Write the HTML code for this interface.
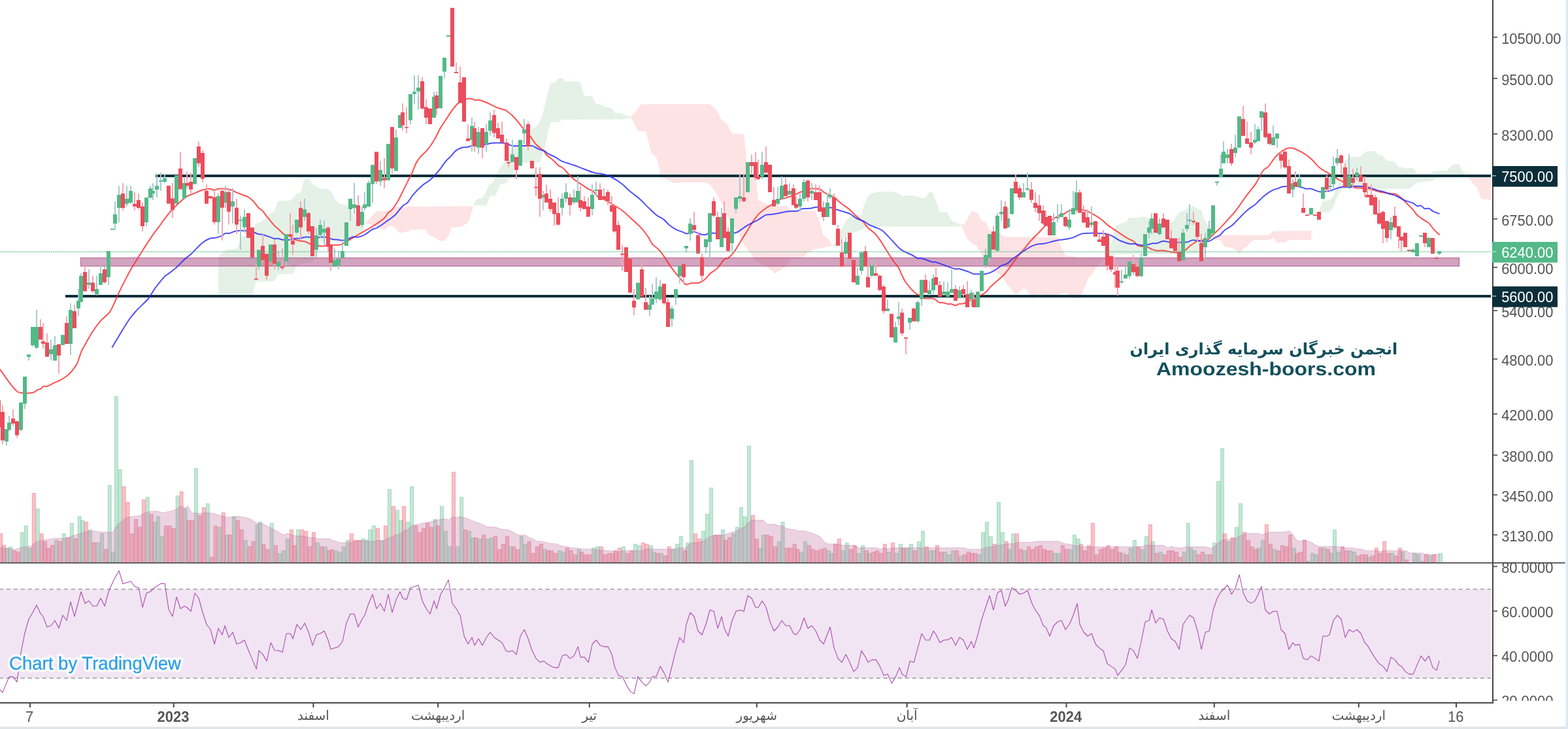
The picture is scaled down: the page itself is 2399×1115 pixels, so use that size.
<!DOCTYPE html>
<html><head><meta charset="utf-8"><title>Chart</title>
<style>
html,body{margin:0;padding:0;background:#fff;}
body{width:2399px;height:1115px;overflow:hidden;font-family:"Liberation Sans",sans-serif;}
svg{display:block;font-family:"Liberation Sans",sans-serif;will-change:transform;}
</style></head><body>
<svg width="2399" height="1115" viewBox="0 0 2399 1115" shape-rendering="geometricPrecision" text-rendering="geometricPrecision">
<rect width="2399" height="1115" fill="#fff"/>
<g id="main"><polygon points="334,450.3 334,392.5 339.3,387.3 348,381.2 362.9,380.3 369.9,361 376,361 379.5,359.3 390,345.3 391.8,341.4 398.8,340 405.8,333.9 411,329.5 419.8,322.5 425,307.6 444.3,306.8 454.8,295.4 460.1,294.5 465.3,273.5 472.3,273.5 478.4,281.4 488.1,287.5 493.3,288.9 502.1,289.3 507.3,294.5 512.6,305 519.6,312 530.1,313.4 534.5,317.3 542.3,332.1 547.6,343.5 558.1,340 556.3,348.8 554.6,354.9 545.8,358.4 535.3,365.4 532.7,368.9 526.6,368 505.6,368.9 489.8,369.8 486.3,382 482.8,392.5 478.4,400.4 470.6,402.2 460.1,403.1 453.1,408.3 449.6,417.1 446.1,418.8 425,419.7 419.8,430.2 391.8,431.1 386.5,450.3" fill="#e5f1e6"/><polygon points="724.3,314.6 727.9,306.3 733,303.2 738.2,303.2 743.3,293.9 749.5,281.6 753.6,279.5 759.8,265.1 768.1,252.7 776.3,244.4 782.5,227.9 788.7,218.6 792.8,215.5 805.2,214.5 811.4,197 819.7,194.9 825.9,186.7 832,168.1 838.2,141.3 842.4,126.8 848.5,126.4 853.7,120.6 859.9,119 865.1,124.8 887.7,125.2 893.9,147 906.3,147 911.5,158.8 918.7,159.8 926.9,164 936.2,165.6 940.4,172.6 950.7,173.2 958.9,177.4 965.1,178 966.1,179.4 951.7,182.5 859.9,182.9 854.7,186.7 842.4,187.1 838.2,203.2 834.1,223.8 828.9,240.3 825.9,248.5 799,249 795.9,253.7 788.7,256.8 780.5,271.2 774.3,280.5 766,281.6 757.8,299.1 749.5,300.1 744.4,314.6" fill="#e5f1e6"/><polygon points="1271,376 1275,374 1280,368 1286,352 1294,338 1301,331 1306,329 1318,329 1322,314 1328,300 1334,295.6 1346,293 1364,293 1374,295 1380,300 1388.1,299 1398.1,299 1410.1,303 1416.1,302.4 1422.1,293.6 1427.1,294.4 1432.1,308 1438.1,324.4 1449.1,325 1455.1,336 1460.1,340 1468.1,342 1468.1,346.4 1326,346.6 1318,352 1308,355 1300,356 1294,360 1290,366 1286,374 1280,376" fill="#e5f1e6"/><polygon points="1688.4,399.3 1690.8,391.4 1696.3,385 1698.7,378.7 1701.9,364.4 1705.8,347 1715.3,341.5 1721.7,340.7 1727.2,333.1 1740.7,332.8 1745.4,331.2 1753.4,332 1759.7,334.4 1793,340.7 1804.1,324.8 1812,321.7 1818.3,317.7 1825.4,315 1832.6,319.3 1838.1,321.7 1842.1,334.4 1846,341.5 1850,345.4 1853.2,356.5 1855.5,359.7 1848.4,369.2 1842.1,378.7 1832.6,388.2 1705.8,389 1704.3,391.4 1696.3,393" fill="#e5f1e6"/><polygon points="2006.5,366.4 2009.4,353.5 2013,347 2017.3,325.5 2023,308.3 2027.3,306.8 2034.5,306.8 2040.2,299.6 2044.5,286.7 2050.3,275.3 2053.1,260.9 2056,250.9 2058.9,245.1 2067.5,240.1 2081.8,239.1 2087.6,232.9 2093.3,231.1 2103.3,231.1 2109.8,237.2 2114.8,237.7 2122,245.8 2133.5,247.3 2140.6,256.6 2144.2,255.5 2149.3,257.3 2162.2,257.3 2169.3,265.9 2188,265.9 2193.7,261.6 2213.8,261.2 2221,253 2225.3,251.2 2232.5,251.6 2238.2,263.1 2243.9,263.5 2233.9,270.2 2196.6,271.7 2192.3,276.7 2173.6,278.1 2166.5,280.3 2156.4,288.6 2070.3,288.9 2053.1,288.9 2048.8,295.3 2044.5,304 2041.6,312.6 2037.3,321.2 2033,324.8 2023,325.2 2018.7,334.1 2014.4,344.1 2010.1,352.7" fill="#e5f1e6"/><polygon points="557.2,340.9 565.1,334.8 575.6,323.4 593.1,322.5 607.1,315.9 722.7,315.2 724.4,315.5 720.9,326 716.5,340 705.2,347 691.1,347.9 685.9,361 680.6,368 674.5,368.6 665.8,363.7 659.6,360.7 657,360.2 650.9,350.5 628.1,351.4 624.6,354 614.1,355.8 610.6,355.8 604.5,348.8 598.4,345.3 593.1,347 587.9,352.3 579.1,347.9 572.1,345.3 565.1,343.5" fill="#fde3e4"/><polygon points="964.8,178.5 972.2,171.1 981.1,159.2 1086.1,159.2 1095,166.6 1103.9,182.9 1111.3,188.8 1120.2,204.5 1137.9,205.1 1140.9,228.8 1142.4,248 1157.2,279.1 1160.1,305.7 1169,310.2 1180.8,316.1 1204.5,314.6 1210.4,322 1247.4,322.9 1254.8,341.2 1259.3,359 1269.6,367.9 1272.6,376.2 1245.9,381.2 1238.5,384.2 1231.1,391.6 1222.3,395.1 1210.4,396 1201.6,407.8 1195.6,412.3 1185.3,418.2 1180.8,413.7 1172,407.8 1163.1,403.4 1154.2,397.5 1148.3,387.1 1139.4,376.8 1130.5,359 1121.6,347.2 1112.8,329.4 1103.9,310.2 1095,293.9 1086.1,282.1 1080.2,279.1 1049.1,279.1 1029.9,279.7 1021,274.7 1010.7,271.7 1009.2,258.4 1004.7,242.1 995.9,231.7 991.4,214 988.5,200.7 976.6,200.7" fill="#fde3e4"/><polygon points="1468.1,342 1475.1,344 1480.1,334 1486.1,323 1495.1,325 1502.1,338 1508.1,339.6 1512.1,348 1518.1,356 1530.1,357 1537.1,362.4 1618.1,363 1622.1,374 1630.1,391 1642.2,391.6 1650.2,395 1682.2,395.6 1687.2,397 1678.2,408.1 1672.2,418.1 1666.2,424.1 1660.2,438.1 1654.2,451.1 1652.2,456.1 1640.2,456.1 1632.1,447.1 1620.1,450.1 1614.1,452.1 1600.1,451.7 1590.1,450.1 1584.1,456.1 1577.1,456.1 1572.1,444.1 1566.1,441.1 1560.1,446.1 1556.1,450.1 1552.1,448.1 1540.1,434.1 1534.1,424.1 1526.1,418.1 1518.1,414.1 1512.1,408.1 1506.1,398 1500.1,386 1494.1,376 1486.1,372 1480.1,366 1475.1,354 1472.1,347" fill="#fde3e4"/><polygon points="1855.5,359.7 1941.9,359.4 1948.2,353.4 2006.8,353 2006,366.8 1972,367.1 1966.4,370.8 1953.7,370.8 1948.2,363.7 1943.4,366.8 1918.1,367.3 1913.3,370 1908.6,376.3 1900.7,381.9 1895.9,388.2 1891.2,381.9 1884.8,379 1876.9,377.9 1871.4,375.5 1867.4,367.6 1861.1,366.8" fill="#fde3e4"/><polygon points="2243.9,263.5 2249.7,270.2 2281.2,270.2 2281.2,306.8 2276.9,304.7 2266.2,304.7 2259.7,286.7 2252.6,279.6 2246.8,271" fill="#fde3e4"/><path d="M8.2 860.6V838.4H13.2V860.6M13.4 860.6V836.5H18.4V860.6M31.2 860.6V814.4H36.2V860.6M37.4 860.6V804.4H42.4V860.6M43.4 860.6V838.4H48.4V860.6M55.3 860.6V778.3H60.3V860.6M83.5 860.6V826.3H88.5V860.6M95.4 860.6V816.3H100.4V860.6M107.3 860.6V800.4H112.3V860.6M119.2 860.6V790.1H124.2V860.6M123.9 860.6V796.1H128.9V860.6M135.3 860.6V810.3H140.3V860.6M147.2 860.6V830.1H152.2V860.6M153.4 860.6V816.3H158.4V860.6M165.3 860.6V742.6H170.3V860.6M170.5 860.6V844.3H175.5V860.6M175.3 860.6V606.4H180.3V860.6M181.2 860.6V718.1H186.2V860.6M223.3 860.6V760.4H228.3V860.6M234.5 860.6V798.5H239.5V860.6M239.4 860.6V790.1H244.4V860.6M245.4 860.6V820.3H250.4V860.6M269.2 860.6V758.5H274.2V860.6M281 860.6V778.3H286V860.6M297.4 860.6V716.5H302.4V860.6M315.3 860.6V770.4H320.3V860.6M333.3 860.6V806.3H338.3V860.6M344.5 860.6V818.2H349.5V860.6M355.4 860.6V790.1H360.4V860.6M373.3 860.6V826.3H378.3V860.6M391.1 860.6V802.5H396.1V860.6M395.8 860.6V798.6H400.8V860.6M413.2 860.6V800.3H418.2V860.6M425.5 860.6V846.7H430.5V860.6M431.3 860.6V842.3H436.3V860.6M437.4 860.6V824.3H442.4V860.6M453.5 860.6V810.3H458.5V860.6M483.6 860.6V830.4H488.6V860.6M495.4 860.6V836.2H500.4V860.6M511.5 860.6V842.3H516.5V860.6M517.5 860.6V844.4H522.5V860.6M523.4 860.6V836.2H528.4V860.6M529.6 860.6V826.5H534.6V860.6M553.5 860.6V824.3H558.5V860.6M558.4 860.6V826.5H563.4V860.6M563.7 860.6V810.3H568.7V860.6M569.4 860.6V804.3H574.4V860.6M581.5 860.6V826.5H586.5V860.6M593.4 860.6V748.4H598.4V860.6M605.6 860.6V780.2H610.6V860.6M611.2 860.6V796.3H616.2V860.6M621.4 860.6V798.6H626.4V860.6M627.5 860.6V744.3H632.5V860.6M663.4 860.6V794.5H668.4V860.6M673.5 860.6V774.4H678.5V860.6M679.4 860.6V812.5H684.4V860.6M685.6 860.6V836.2H690.6V860.6M697.6 860.6V836.2H702.6V860.6M703.6 860.6V760.4H708.6V860.6M715.5 860.6V812.5H720.5V860.6M721.1 860.6V822.5H726.1V860.6M731.6 860.6V824.3H736.6V860.6M743.5 860.6V824.3H748.5V860.6M749.4 860.6V822.5H754.4V860.6M778.4 860.6V836.2H783.4V860.6M795.4 860.6V820.4H800.4V860.6M801 860.6V832.3H806V860.6M831.3 860.6V840.2H836.3V860.6M853.5 860.6V842.3H858.5V860.6M859.6 860.6V844.4H864.6V860.6M883.2 860.6V840.2H888.2V860.6M905.6 860.6V838.3H910.6V860.6M911.5 860.6V836.2H916.5V860.6M951.4 860.6V836.2H956.4V860.6M969.4 860.6V832.3H974.4V860.6M975.5 860.6V834.4H980.5V860.6M993.4 860.6V834.4H998.4V860.6M998.1 860.6V844.4H1003.1V860.6M1009.5 860.6V846.3H1014.5V860.6M1027.5 860.6V840.2H1032.5V860.6M1033.6 860.6V832.3H1038.6V860.6M1039.4 860.6V820.4H1044.4V860.6M1049.7 860.6V830.4H1054.7V860.6M1055.5 860.6V704.5H1060.5V860.6M1073.5 860.6V812.5H1078.5V860.6M1079.4 860.6V786.3H1084.4V860.6M1085.6 860.6V746.4H1090.6V860.6M1103.6 860.6V810.3H1108.6V860.6M1119.3 860.6V816.4H1124.3V860.6M1125.4 860.6V806.4H1130.4V860.6M1131.4 860.6V776.3H1136.4V860.6M1137.5 860.6V790.3H1142.5V860.6M1143.5 860.6V682.2H1148.5V860.6M1160.4 860.6V838.3H1165.4V860.6M1165.5 860.6V818.3H1170.5V860.6M1189.3 860.6V828.3H1194.3V860.6M1195.1 860.6V798.6H1200.1V860.6M1223.4 860.6V844.4H1228.4V860.6M1229.3 860.6V828.3H1234.3V860.6M1265.4 860.6V842.3H1270.4V860.6M1269.7 860.6V846.3H1274.7V860.6M1287.6 860.6V842.3H1292.6V860.6M1293.3 860.6V830.4H1298.3V860.6M1311.5 860.6V846.3H1316.5V860.6M1317.5 860.6V834.4H1322.5V860.6M1327.8 860.6V846.3H1332.8V860.6M1357.5 860.6V844.4H1362.5V860.6M1369.4 860.6V846.3H1374.4V860.6M1375.5 860.6V832.3H1380.5V860.6M1385.5 860.6V838.3H1390.5V860.6M1391.5 860.6V832.3H1396.5V860.6M1403.4 860.6V828.3H1408.4V860.6M1409.5 860.6V812.5H1414.5V860.6M1421.4 860.6V842.3H1426.4V860.6M1426.6 860.6V842.3H1431.6V860.6M1443.4 860.6V844.4H1448.4V860.6M1449.5 860.6V848.4H1454.5V860.6M1455.5 860.6V842.3H1460.5V860.6M1467.5 860.6V850.1H1472.5V860.6M1495.4 860.6V848.4H1500.4V860.6M1501.5 860.6V814.3H1506.5V860.6M1507.4 860.6V798.6H1512.4V860.6M1513.4 860.6V820.4H1518.4V860.6M1525.4 860.6V768.3H1530.4V860.6M1531.4 860.6V814.3H1536.4V860.6M1541.7 860.6V840.2H1546.7V860.6M1547.5 860.6V816.4H1552.5V860.6M1565.5 860.6V842.3H1570.5V860.6M1611.5 860.6V846.3H1616.5V860.6M1617.3 860.6V846.3H1622.3V860.6M1635.5 860.6V840.2H1640.5V860.6M1641.4 860.6V818.3H1646.4V860.6M1647.3 860.6V824.3H1652.3V860.6M1715.6 860.6V846.3H1720.6V860.6M1727.3 860.6V838.3H1732.3V860.6M1733.4 860.6V826.5H1738.4V860.6M1745.3 860.6V840.2H1750.3V860.6M1751.4 860.6V820.4H1756.4V860.6M1761.4 860.6V828.3H1766.4V860.6M1773.3 860.6V844.4H1778.3V860.6M1809.3 860.6V844.4H1814.3V860.6M1815.4 860.6V800.3H1820.4V860.6M1819.6 860.6V838.3H1824.6V860.6M1825.4 860.6V842.3H1830.4V860.6M1843.4 860.6V848.4H1848.4V860.6M1855.5 860.6V830.4H1860.5V860.6M1861.4 860.6V736.5H1866.4V860.6M1867.4 860.6V686.3H1872.4V860.6M1877.3 860.6V828.3H1882.3V860.6M1889.4 860.6V806.4H1894.4V860.6M1895.4 860.6V770.2H1900.4V860.6M1923.7 860.6V838.3H1928.7V860.6M1929.5 860.6V826.2H1934.5V860.6M1947.5 860.6V840.2H1952.5V860.6M1977.4 860.6V838.3H1982.4V860.6M1999.4 860.6V858.4H2004.4V860.6M2005.5 860.6V846.2H2010.5V860.6M2011.4 860.6V848.3H2016.4V860.6M2023.4 860.6V838.3H2028.4V860.6M2034 860.6V846.2H2039V860.6M2039.5 860.6V810.4H2044.5V860.6M2045.5 860.6V844.3H2050.5V860.6M2063.5 860.6V842.4H2068.5V860.6M2069.5 860.6V844.3H2074.5V860.6M2091.7 860.6V852.2H2096.7V860.6M2127.5 860.6V846.2H2132.5V860.6M2143.8 860.6V844.3H2148.8V860.6M2161.6 860.6V846.2H2166.6V860.6M2167.6 860.6V848.3H2172.6V860.6M2173.6 860.6V858.4H2178.6V860.6M2185.5 860.6V850.2H2190.5V860.6M2201.6 860.6V846.2H2206.6V860.6" fill="rgba(83,185,135,0.34)" stroke="rgba(83,185,135,0.42)" stroke-width="1"/><path d="M-1.3 860.6V816.3H3.7V860.6M3.4 860.6V834.1H8.4V860.6M19.4 860.6V842.4H24.4V860.6M25.3 860.6V844.3H30.3V860.6M49.3 860.6V754.5H54.3V860.6M61.2 860.6V816.3H66.2V860.6M66.4 860.6V828.2H71.4V860.6M71.7 860.6V838.4H76.7V860.6M77.6 860.6V834.1H82.6V860.6M89.5 860.6V828.2H94.5V860.6M101.4 860.6V822.2H106.4V860.6M113.2 860.6V824.1H118.2V860.6M129.4 860.6V798.5H134.4V860.6M141.3 860.6V830.1H146.3V860.6M159.4 860.6V840H164.4V860.6M187.2 860.6V744.3H192.2V860.6M193.1 860.6V768.3H198.1V860.6M199.5 860.6V816.3H204.5V860.6M205.5 860.6V794.4H210.5V860.6M211.4 860.6V806.3H216.4V860.6M217.3 860.6V764.5H222.3V860.6M229.2 860.6V786.6H234.2V860.6M251.3 860.6V804.4H256.3V860.6M257.3 860.6V804.4H262.3V860.6M263.2 860.6V808.4H268.2V860.6M275.1 860.6V752.1H280.1V860.6M285.8 860.6V796.1H290.8V860.6M291.5 860.6V796.1H296.5V860.6M303.4 860.6V788.5H308.4V860.6M309.3 860.6V776.4H314.3V860.6M321.2 860.6V852.4H326.2V860.6M327.1 860.6V804.4H332.1V860.6M339.3 860.6V784.2H344.3V860.6M349.5 860.6V818.2H354.5V860.6M361.4 860.6V796.1H366.4V860.6M367.3 860.6V810.3H372.3V860.6M379.2 860.6V836H384.2V860.6M385.1 860.6V828.2H390.1V860.6M401 860.6V832.7H406V860.6M407.1 860.6V840.5H412.1V860.6M419.4 860.6V834.4H424.4V860.6M443.5 860.6V810.3H448.5V860.6M448.2 860.6V834.4H453.2V860.6M459.6 860.6V810.3H464.6V860.6M465.7 860.6V812.5H470.7V860.6M471.3 860.6V836.2H476.3V860.6M477.4 860.6V814.3H482.4V860.6M489.7 860.6V836.2H494.7V860.6M501 860.6V842.3H506V860.6M505.6 860.6V840.5H510.6V860.6M535.3 860.6V816.4H540.3V860.6M541.4 860.6V826.5H546.4V860.6M547.6 860.6V826.5H552.6V860.6M575.5 860.6V808.5H580.5V860.6M587.4 860.6V804.3H592.4V860.6M599.5 860.6V774.4H604.5V860.6M615.4 860.6V774.4H620.4V860.6M633.6 860.6V804.3H638.6V860.6M639.7 860.6V814.3H644.7V860.6M645.5 860.6V808.2H650.5V860.6M651.5 860.6V800.3H656.5V860.6M657.6 860.6V806.4H662.6V860.6M667.7 860.6V804.3H672.7V860.6M691.5 860.6V722.1H696.5V860.6M709.5 860.6V810.3H714.5V860.6M725.8 860.6V822.5H730.8V860.6M737.5 860.6V818.3H742.5V860.6M755.5 860.6V820.4H760.5V860.6M761.6 860.6V840.5H766.6V860.6M767.4 860.6V832.3H772.4V860.6M773.5 860.6V820.4H778.5V860.6M783.5 860.6V836.2H788.5V860.6M789.6 860.6V840.5H794.6V860.6M807.1 860.6V828.3H812.1V860.6M813.2 860.6V846.3H818.2V860.6M819.4 860.6V836.2H824.4V860.6M825.5 860.6V832.3H830.5V860.6M836 860.6V842.3H841V860.6M841.2 860.6V842.3H846.2V860.6M847.3 860.6V846.3H852.3V860.6M865.4 860.6V838.3H870.4V860.6M871.3 860.6V842.3H876.3V860.6M877.4 860.6V848.4H882.4V860.6M887.6 860.6V844.4H892.6V860.6M893.3 860.6V848.4H898.3V860.6M899.3 860.6V848.4H904.3V860.6M917.5 860.6V836.2H922.5V860.6M923.4 860.6V848.4H928.4V860.6M929.6 860.6V846.3H934.6V860.6M935.3 860.6V846.3H940.3V860.6M939.5 860.6V842.3H944.5V860.6M945.3 860.6V838.3H950.3V860.6M957.5 860.6V846.3H962.5V860.6M963.7 860.6V842.3H968.7V860.6M981.5 860.6V830.4H986.5V860.6M987.4 860.6V832.3H992.4V860.6M1003.5 860.6V846.3H1008.5V860.6M1015.4 860.6V850.1H1020.4V860.6M1021.4 860.6V836.2H1026.4V860.6M1045.5 860.6V842.3H1050.5V860.6M1061.6 860.6V816.4H1066.6V860.6M1067.7 860.6V824.3H1072.7V860.6M1091.5 860.6V818.3H1096.5V860.6M1097.6 860.6V818.3H1102.6V860.6M1107.6 860.6V826.5H1112.6V860.6M1113.4 860.6V822.2H1118.4V860.6M1149.4 860.6V788.4H1154.4V860.6M1155.5 860.6V824.3H1160.5V860.6M1171.4 860.6V818.3H1176.4V860.6M1177.4 860.6V820.4H1182.4V860.6M1183.5 860.6V836.2H1188.5V860.6M1201.3 860.6V838.3H1206.3V860.6M1207.1 860.6V838.3H1212.1V860.6M1213.2 860.6V832.3H1218.2V860.6M1218 860.6V840.2H1223V860.6M1235.5 860.6V834.4H1240.5V860.6M1241.2 860.6V840.2H1246.2V860.6M1247.3 860.6V842.3H1252.3V860.6M1253.5 860.6V840.2H1258.5V860.6M1259.6 860.6V838.3H1264.6V860.6M1275.3 860.6V832.3H1280.3V860.6M1281.5 860.6V824.3H1286.5V860.6M1299.3 860.6V840.2H1304.3V860.6M1305.4 860.6V834.4H1310.4V860.6M1323.4 860.6V842.3H1328.4V860.6M1333.4 860.6V844.4H1338.4V860.6M1339.2 860.6V842.3H1344.2V860.6M1345.3 860.6V846.3H1350.3V860.6M1351.4 860.6V832.3H1356.4V860.6M1363.5 860.6V830.4H1368.5V860.6M1379.7 860.6V838.3H1384.7V860.6M1397.4 860.6V842.3H1402.4V860.6M1415.4 860.6V836.2H1420.4V860.6M1431.5 860.6V834.4H1436.5V860.6M1437.5 860.6V844.4H1442.5V860.6M1461.6 860.6V842.3H1466.6V860.6M1473.5 860.6V848.4H1478.5V860.6M1479.4 860.6V844.4H1484.4V860.6M1484.3 860.6V846.3H1489.3V860.6M1489.6 860.6V846.3H1494.6V860.6M1519.3 860.6V832.3H1524.3V860.6M1537.3 860.6V828.3H1542.3V860.6M1553.4 860.6V816.4H1558.4V860.6M1559.5 860.6V840.2H1564.5V860.6M1571.4 860.6V836.2H1576.4V860.6M1577.4 860.6V840.2H1582.4V860.6M1583.5 860.6V836.2H1588.5V860.6M1589.5 860.6V834.4H1594.5V860.6M1595.4 860.6V840.2H1600.4V860.6M1599.2 860.6V842.3H1604.2V860.6M1605.4 860.6V842.3H1610.4V860.6M1623.4 860.6V834.4H1628.4V860.6M1629.3 860.6V840.2H1634.3V860.6M1651.4 860.6V832.3H1656.4V860.6M1657.3 860.6V842.3H1662.3V860.6M1663.3 860.6V834.4H1668.3V860.6M1669.4 860.6V800.3H1674.4V860.6M1675.3 860.6V848.4H1680.3V860.6M1681.5 860.6V840.2H1686.5V860.6M1687.4 860.6V838.3H1692.4V860.6M1693.3 860.6V834.4H1698.3V860.6M1699.3 860.6V840.2H1704.3V860.6M1705.4 860.6V836.2H1710.4V860.6M1710.3 860.6V844.4H1715.3V860.6M1721.3 860.6V848.4H1726.3V860.6M1739.3 860.6V836.2H1744.3V860.6M1757.4 860.6V802.4H1762.4V860.6M1767.2 860.6V846.3H1772.2V860.6M1779.4 860.6V848.4H1784.4V860.6M1785.5 860.6V842.3H1790.5V860.6M1791.5 860.6V842.3H1796.5V860.6M1797.4 860.6V844.4H1802.4V860.6M1803.4 860.6V852.2H1808.4V860.6M1831.3 860.6V848.4H1836.3V860.6M1837.5 860.6V844.4H1842.5V860.6M1849.4 860.6V848.4H1854.4V860.6M1871.4 860.6V816.4H1876.4V860.6M1883.5 860.6V822.2H1888.5V860.6M1901.5 860.6V814.3H1906.5V860.6M1907.4 860.6V826.2H1912.4V860.6M1913.4 860.6V836.2H1918.4V860.6M1919.3 860.6V840.2H1924.3V860.6M1935.4 860.6V802.4H1940.4V860.6M1941.4 860.6V832.3H1946.4V860.6M1953.4 860.6V842.3H1958.4V860.6M1959.5 860.6V834.4H1964.5V860.6M1965.5 860.6V836.2H1970.5V860.6M1971.4 860.6V818.3H1976.4V860.6M1981.8 860.6V846.3H1986.8V860.6M1987.5 860.6V844.4H1992.5V860.6M1993.5 860.6V826.1H1998.5V860.6M2017.4 860.6V838.3H2022.4V860.6M2029.4 860.6V840.2H2034.4V860.6M2051.5 860.6V836.1H2056.5V860.6M2057.6 860.6V842.4H2062.6V860.6M2075.4 860.6V850.2H2080.4V860.6M2081.4 860.6V848.3H2086.4V860.6M2087.5 860.6V848.3H2092.5V860.6M2097.5 860.6V850.2H2102.5V860.6M2103.5 860.6V838.3H2108.5V860.6M2109.6 860.6V846.2H2114.6V860.6M2115.6 860.6V828.2H2120.6V860.6M2121.6 860.6V846.2H2126.6V860.6M2133.6 860.6V850.2H2138.6V860.6M2139.5 860.6V838.3H2144.5V860.6M2149.5 860.6V856.2H2154.5V860.6M2179.6 860.6V848.3H2184.6V860.6M2191.6 860.6V848.3H2196.6V860.6" fill="rgba(235,77,92,0.34)" stroke="rgba(235,77,92,0.42)" stroke-width="1"/><path d="M0 837.7 L9.5 838.9 L23.8 840 L35.7 836.5 L47.5 835.3 L57 828.2 L68.9 825.8 L83.2 823.4 L99.8 823.4 L114.1 818.7 L128.3 813.9 L142.6 812 L154.5 813.9 L166.4 813.9 L172.3 815.1 L175.9 808 L183 799.6 L194.9 791.3 L206.8 789.4 L213.9 788.9 L222.2 784.2 L230.5 782.3 L240 781.8 L249.6 784.2 L261.4 781.8 L268.6 779.4 L276.9 774.2 L282.8 777.1 L287.6 774 L293.5 784.2 L304.2 785.4 L316.1 784.2 L328 785.4 L337.5 788.9 L349.4 791.3 L363.6 790.1 L375.5 791.3 L382.7 793.7 L389.8 798.5 L398.1 800.4 L400 800.3 L408.7 804.7 L415.7 808.2 L422.7 811.7 L433.2 818.3 L439.4 816 L445.5 817.8 L452.5 819.5 L464.7 820.1 L473.5 822.2 L480.5 822.2 L485.7 823.9 L503.2 823.9 L511.9 827.4 L520.7 830 L529.4 830 L538.2 829.2 L545.2 826.9 L553.9 826.9 L569.7 828.3 L576.7 826.2 L585.4 827.4 L595.9 822.2 L604.6 818.7 L613.4 816 L618.6 811.7 L623.9 809.9 L630.9 803.3 L641.4 801.5 L648.4 799.8 L657.1 798.6 L667.6 795.9 L676.3 793.8 L681.6 793.8 L686.8 795.6 L692.1 790.7 L697.3 791.6 L704.3 790.3 L713.1 792.4 L723.6 796.8 L737.6 802.1 L745.4 806.1 L756.8 806.1 L769 809.9 L776 809.9 L784.8 813.4 L791.8 818.3 L798.8 818.3 L803.5 818.3 L808.7 821.8 L814.9 823.9 L821 827.8 L828 827.9 L835 829.5 L842 831.3 L850.7 831.8 L860.3 835.3 L868.2 836.2 L873.5 837.9 L884 838.3 L890.9 839.7 L904.9 839.7 L920.7 841.8 L936.4 842.3 L945.2 844.4 L953.9 842.3 L981.9 842.3 L989.8 839.7 L1027.4 840 L1035.2 839.3 L1042.2 837.9 L1049.2 838.3 L1052.7 834.4 L1057.1 830.6 L1072.8 829.2 L1081.6 823.9 L1086.8 820.4 L1093.8 818.7 L1107.8 818.3 L1114.8 815.5 L1125.3 812.5 L1132.3 809 L1139.3 806.1 L1145.4 798.6 L1151.6 795.9 L1167.3 795.6 L1173.4 801.5 L1184.8 802.1 L1191.8 803.8 L1198.8 804.7 L1200 806.4 L1208.7 809.6 L1215.7 809.9 L1221 812 L1231.5 812 L1242 815.2 L1250.7 818.7 L1256 822.2 L1261.2 829.5 L1266.5 831.8 L1282.2 832.3 L1289.2 834.1 L1306.7 834.1 L1313.7 837.9 L1339.9 837.9 L1346.9 839.7 L1352.2 837.9 L1358.3 839.7 L1364.4 837.9 L1474.6 837.9 L1481.6 840 L1500.8 840 L1509.6 837 L1520.1 835.8 L1527.1 834.1 L1535.8 833 L1541.1 831.8 L1551.6 831.3 L1556.8 829.5 L1579.5 829.5 L1584.8 827.9 L1598.8 827.9 L1600 827.9 L1619.2 827.9 L1629.7 831.8 L1636.7 832.3 L1642 834.1 L1657.7 836.2 L1745.2 836.2 L1752.2 834.1 L1780.1 834.1 L1787.1 837.9 L1792.4 835.8 L1799.4 837.9 L1809.9 837.9 L1815.1 836.2 L1844.9 836.2 L1851.9 838.3 L1856.2 837.9 L1862.4 831.8 L1869.3 826.2 L1888.6 823.9 L1897.3 819.5 L1907.8 816 L1925.3 815.7 L1931.4 818.3 L1937.6 815.5 L1943.7 813.9 L1965.5 813.9 L1972.5 812.2 L1977.8 816.9 L1983 825.7 L1989.2 827.9 L1995 825.8 L2000 827.3 L2006.3 829.5 L2012.6 833.6 L2018.9 835.9 L2046.5 835.9 L2051.5 836.8 L2057.8 838 L2070.4 838 L2076.7 839.5 L2082.9 839.9 L2089.2 842 L2106.8 842.4 L2110.6 844.1 L2115.6 842.4 L2150.7 842 L2157 845.8 L2174.6 845.8 L2180.9 847.8 L2202.2 848.1 L2202.2 860.6 L0 860.6Z" fill="rgba(190,110,160,0.30)"/><path d="M0 837.7 L9.5 838.9 L23.8 840 L35.7 836.5 L47.5 835.3 L57 828.2 L68.9 825.8 L83.2 823.4 L99.8 823.4 L114.1 818.7 L128.3 813.9 L142.6 812 L154.5 813.9 L166.4 813.9 L172.3 815.1 L175.9 808 L183 799.6 L194.9 791.3 L206.8 789.4 L213.9 788.9 L222.2 784.2 L230.5 782.3 L240 781.8 L249.6 784.2 L261.4 781.8 L268.6 779.4 L276.9 774.2 L282.8 777.1 L287.6 774 L293.5 784.2 L304.2 785.4 L316.1 784.2 L328 785.4 L337.5 788.9 L349.4 791.3 L363.6 790.1 L375.5 791.3 L382.7 793.7 L389.8 798.5 L398.1 800.4 L400 800.3 L408.7 804.7 L415.7 808.2 L422.7 811.7 L433.2 818.3 L439.4 816 L445.5 817.8 L452.5 819.5 L464.7 820.1 L473.5 822.2 L480.5 822.2 L485.7 823.9 L503.2 823.9 L511.9 827.4 L520.7 830 L529.4 830 L538.2 829.2 L545.2 826.9 L553.9 826.9 L569.7 828.3 L576.7 826.2 L585.4 827.4 L595.9 822.2 L604.6 818.7 L613.4 816 L618.6 811.7 L623.9 809.9 L630.9 803.3 L641.4 801.5 L648.4 799.8 L657.1 798.6 L667.6 795.9 L676.3 793.8 L681.6 793.8 L686.8 795.6 L692.1 790.7 L697.3 791.6 L704.3 790.3 L713.1 792.4 L723.6 796.8 L737.6 802.1 L745.4 806.1 L756.8 806.1 L769 809.9 L776 809.9 L784.8 813.4 L791.8 818.3 L798.8 818.3 L803.5 818.3 L808.7 821.8 L814.9 823.9 L821 827.8 L828 827.9 L835 829.5 L842 831.3 L850.7 831.8 L860.3 835.3 L868.2 836.2 L873.5 837.9 L884 838.3 L890.9 839.7 L904.9 839.7 L920.7 841.8 L936.4 842.3 L945.2 844.4 L953.9 842.3 L981.9 842.3 L989.8 839.7 L1027.4 840 L1035.2 839.3 L1042.2 837.9 L1049.2 838.3 L1052.7 834.4 L1057.1 830.6 L1072.8 829.2 L1081.6 823.9 L1086.8 820.4 L1093.8 818.7 L1107.8 818.3 L1114.8 815.5 L1125.3 812.5 L1132.3 809 L1139.3 806.1 L1145.4 798.6 L1151.6 795.9 L1167.3 795.6 L1173.4 801.5 L1184.8 802.1 L1191.8 803.8 L1198.8 804.7 L1200 806.4 L1208.7 809.6 L1215.7 809.9 L1221 812 L1231.5 812 L1242 815.2 L1250.7 818.7 L1256 822.2 L1261.2 829.5 L1266.5 831.8 L1282.2 832.3 L1289.2 834.1 L1306.7 834.1 L1313.7 837.9 L1339.9 837.9 L1346.9 839.7 L1352.2 837.9 L1358.3 839.7 L1364.4 837.9 L1474.6 837.9 L1481.6 840 L1500.8 840 L1509.6 837 L1520.1 835.8 L1527.1 834.1 L1535.8 833 L1541.1 831.8 L1551.6 831.3 L1556.8 829.5 L1579.5 829.5 L1584.8 827.9 L1598.8 827.9 L1600 827.9 L1619.2 827.9 L1629.7 831.8 L1636.7 832.3 L1642 834.1 L1657.7 836.2 L1745.2 836.2 L1752.2 834.1 L1780.1 834.1 L1787.1 837.9 L1792.4 835.8 L1799.4 837.9 L1809.9 837.9 L1815.1 836.2 L1844.9 836.2 L1851.9 838.3 L1856.2 837.9 L1862.4 831.8 L1869.3 826.2 L1888.6 823.9 L1897.3 819.5 L1907.8 816 L1925.3 815.7 L1931.4 818.3 L1937.6 815.5 L1943.7 813.9 L1965.5 813.9 L1972.5 812.2 L1977.8 816.9 L1983 825.7 L1989.2 827.9 L1995 825.8 L2000 827.3 L2006.3 829.5 L2012.6 833.6 L2018.9 835.9 L2046.5 835.9 L2051.5 836.8 L2057.8 838 L2070.4 838 L2076.7 839.5 L2082.9 839.9 L2089.2 842 L2106.8 842.4 L2110.6 844.1 L2115.6 842.4 L2150.7 842 L2157 845.8 L2174.6 845.8 L2180.9 847.8 L2202.2 848.1" fill="none" stroke="rgba(190,110,160,0.32)" stroke-width="1.1"/><rect x="123.5" y="394.5" width="2109" height="12.5" fill="rgba(170,80,135,0.52)" stroke="rgba(175,85,140,0.75)" stroke-width="1.4"/><rect x="238" y="267" width="2043" height="4" fill="#0b2f3a"/><rect x="100" y="451" width="2181" height="4" fill="#0b2f3a"/><path d="M0 564.8C1.9 567.5 8.1 576.6 11.8 581.6C15.6 586.7 20.5 593.4 23.7 596.4C26.8 599.5 27.5 600.1 31.6 600.8C35.7 601.5 45.2 601.5 49.3 600.8C53.4 600.1 55 597.4 57.2 596.4C59.4 595.4 61.7 595.3 63.1 594.4C64.6 593.6 64.5 591.5 66.1 590.9C67.7 590.3 70 591.5 73 590.5C76 589.5 82 585.9 84.8 584.6C87.7 583.3 87.9 583.8 90.8 582.2C93.6 580.6 99.4 577.2 102.6 574.7C105.8 572.2 108 570 110.5 566.8C113 563.7 116.2 559.6 118.4 555C120.6 550.4 122.1 543.3 124.3 538.2C126.5 533.2 129.4 528.5 132.2 523.4C135 518.4 138.6 511.8 142.1 506.6C145.5 501.4 149.9 495.4 153.9 490.9C157.9 486.3 163.7 482.6 167.1 478.2C170.5 473.8 172.5 468.6 175 463.4C177.5 458.2 180 451.6 182.9 445.6C185.7 439.6 189.6 431.9 192.7 425.9C195.9 419.9 199.4 413.5 202.6 408.1C205.8 402.8 209.3 397.4 212.5 392.3C215.6 387.3 218.9 381.9 222.3 376.6C225.8 371.2 230.4 364.2 234.2 358.8C238 353.4 243.5 346.5 246 343C248.5 339.5 247.5 340.4 250 337.1C252.5 333.8 258.1 326.6 261.8 322.3C265.6 318.1 269.9 314 273.7 310.5C277.5 307 281.7 303 285.5 300.6C289.3 298.3 293.6 297.3 297.4 295.7C301.1 294.1 305.4 291.9 309.2 290.8C313 289.7 318.2 288.8 321 288.8C323.9 288.8 324.7 290.8 327 290.8C329.2 290.8 332 289.1 334.8 288.8C337.7 288.5 341.6 288.5 344.7 288.8C347.9 289.1 351.7 289.8 354.6 290.8C357.4 291.7 359.9 293.6 362.5 294.7C365 295.8 367.5 296.6 370.4 297.7C373.2 298.8 377.4 299.9 380.2 301.6C383.1 303.4 385.6 305.9 388.1 308.5C390.6 311.1 393.6 315.8 395.8 318C397.9 320.2 399.5 320.1 401.5 322.3C403.6 324.5 405.9 328.2 408.7 331.7C411.5 335.1 415.8 340.6 418.7 343.9C421.7 347.1 424.7 349.3 427.4 351.7C430 354.2 432.7 357.5 435.2 358.9C437.8 360.3 441 359.3 443.1 360.4C445.3 361.4 446.6 364.1 448.9 365.4C451.2 366.6 454.7 367.6 457.5 368.2C460.2 368.9 463.3 368.4 466.1 369.3C468.9 370.1 472.4 372.4 474.7 373.3C477 374.1 478.4 374.2 480.4 374.7C482.5 375.2 485.3 375.9 487.6 376.1C489.9 376.4 492.5 376.7 494.8 376.4C497.1 376.2 499.7 375 502 374.7C504.3 374.4 506.6 374.7 509.1 374.7C511.7 374.7 515.5 374.9 517.8 374.7C520 374.5 521.2 374.3 523.5 373.3C525.8 372.2 528.8 370.2 532.1 368.2C535.4 366.3 539.9 363.8 544 361.4C548.1 359 553.5 355.8 558 353.2C562.5 350.6 567.3 348 572 345C576.6 342.1 583.6 337.7 587.1 334.6C590.7 331.4 592.1 327.5 594.1 325.2C596.2 323 597.5 323.5 600 320.6C602.4 317.6 606.7 311 609.3 306.6C611.9 302.1 614 297.1 616.3 292.6C618.5 288.1 621 283.1 623.3 278.6C625.5 274.1 628 269.4 630.3 264.6C632.5 259.7 635 252.4 637.3 248.3C639.5 244.2 641.7 241.9 644.3 238.9C646.9 236 650.4 233.5 653.6 229.6C656.8 225.7 660.7 220 664.1 214.4C667.5 208.9 671.6 199.8 674.6 194.6C677.6 189.4 680.1 186.2 683 181.9C685.8 177.6 689.3 171.8 692.3 167.9C695.3 164 698.3 160 701.6 157.4C705 154.8 710.3 152.6 713.3 151.6C716.3 150.5 718 150.6 720.3 150.9C722.5 151.1 725 152.8 727.3 153.2C729.5 153.6 730.9 152.4 734.3 153.2C737.6 154.1 744.2 156.8 748.3 158.6C752.4 160.4 756.2 162.9 759.9 164.4C763.7 165.9 769.4 167.2 771.6 167.9C773.8 168.6 771.9 167.3 773.9 168.7C775.8 170.1 780.7 173.8 783.7 176.6C786.7 179.5 789.9 183.3 792.6 186.5C795.3 189.7 797.7 193.1 800.5 196.4C803.4 199.7 807.2 203.3 810.4 207.2C813.5 211.2 816.8 217.2 820.2 221C823.7 224.8 829.6 228.4 832.1 230.9C834.6 233.4 833.8 234.6 836 236.8C838.2 239 843.1 242.2 845.9 244.7C848.7 247.2 851.3 250.6 853.8 252.6C856.3 254.7 858.8 255.1 861.7 257.5C864.5 260 868.7 265.2 871.6 268C874.4 270.8 876.3 272.9 879.4 275.3C882.6 277.7 887.8 280.9 891.3 283.2C894.8 285.5 898.6 288.3 901.1 289.7C903.7 291.1 904.9 290.3 907.1 292.1C909.3 293.9 912.4 299 915 300.9C917.5 302.9 919.2 302.5 922.9 304.4C926.6 306.4 933.2 310.1 938 313C942.8 316 948.6 319.3 953 322.7C957.5 326.2 961.5 330.4 966 334.6C970.4 338.7 976.9 344.1 981 348.6C985.2 353 989 358.6 991.8 362.6C994.5 366.5 995.5 370 998.2 373.3C1001 376.6 1005.9 379.6 1009 383C1012.1 386.4 1014.9 390.9 1017.6 394.8C1020.4 398.8 1023.1 403.4 1026.2 407.8C1029.3 412.1 1033.9 418 1037 421.7C1040.1 425.5 1043.5 429.3 1045.6 431.4C1047.7 433.6 1047.8 435.1 1049.9 435.3C1052 435.5 1055.5 433.1 1058.5 432.7C1061.5 432.3 1065.6 433.6 1068.8 432.7C1072 431.8 1075.8 429.5 1078.7 427.2C1081.5 424.9 1083.6 421 1086.6 418.3C1089.6 415.6 1094 413.9 1097.4 410.4C1100.9 406.9 1105.6 399.1 1108.3 396.6C1111 394.1 1111.7 396.7 1114.2 394.6C1116.7 392.6 1120.9 388 1124.1 383.8C1127.2 379.5 1130.8 373 1133.9 368C1137.1 362.9 1140.6 357.3 1143.8 352.2C1146.9 347.2 1150.8 340.5 1153.7 336.4C1156.5 332.3 1158.7 329.4 1161.6 326.6C1164.4 323.7 1168.3 320.9 1171.4 318.7C1174.6 316.4 1177.8 314.9 1181.3 312.7C1184.8 310.5 1190.1 306.3 1193.1 304.8C1196.1 303.4 1197 304.3 1200 303.4C1203 302.5 1207.7 301 1211.8 299.5C1215.9 297.9 1221.5 295.2 1225.7 293.5C1229.8 291.9 1233.1 289.9 1237.5 289.2C1241.9 288.5 1249.5 288.4 1253.3 289.2C1257.1 290.1 1259 293.2 1261.2 294.5C1263.4 295.9 1264.6 296.2 1267.1 297.5C1269.6 298.8 1274.1 300.5 1277 302.4C1279.8 304.3 1282.3 307.3 1284.8 309.3C1287.4 311.4 1290.2 313.4 1292.7 315.2C1295.3 317.1 1297.8 318.6 1300.6 321.2C1303.5 323.7 1307.3 328.2 1310.5 331C1313.7 333.9 1317.5 336.1 1320.4 338.9C1323.2 341.8 1325.4 346 1328.3 348.8C1331.1 351.6 1335.3 353.8 1338.1 356.7C1341 359.5 1342.4 361.2 1346 366.6C1349.6 371.9 1357.3 384.5 1360.8 390C1364.3 395.5 1365.7 397.5 1368 400.8C1370.3 404 1373.1 406.5 1375.1 410.1C1377.2 413.6 1379 419.3 1380.9 423C1382.7 426.7 1384.5 430.1 1386.6 433C1388.7 436 1391.5 439.1 1393.8 441.7C1396.1 444.2 1398.9 447.2 1401 448.8C1403 450.4 1404.6 450.5 1406.7 451.7C1408.8 452.9 1410.4 455.5 1413.9 456.3C1417.3 457.1 1424.6 455.7 1428.2 456.7C1431.9 457.7 1434.3 461.4 1436.8 462.5C1439.4 463.5 1441.9 462.8 1444 463.2C1446.1 463.6 1447.9 464.6 1449.7 464.9C1451.6 465.2 1453.5 464.5 1455.5 464.9C1457.4 465.3 1460.1 467.2 1461.9 467.2C1463.8 467.2 1465 465.4 1467 464.9C1468.9 464.4 1471.6 465.1 1474.1 464.3C1476.7 463.6 1480.2 461.4 1482.8 460.3C1485.3 459.2 1488.1 458.2 1489.9 457.4C1491.8 456.7 1493.3 456.2 1494.2 455.7C1495.2 455.2 1493.8 455.6 1495.9 454.2C1498.1 452.9 1504.6 449.8 1507.8 447.3C1510.9 444.8 1512.8 441.3 1515.7 438.4C1518.5 435.6 1522 432.7 1525.5 429.6C1529 426.4 1533.9 422.5 1537.4 418.7C1540.8 414.9 1544.1 410.1 1547.2 405.9C1550.4 401.6 1553.6 396.5 1557.1 392.1C1560.6 387.6 1565.5 382.4 1568.9 378.3C1572.4 374.2 1575.6 369.9 1578.8 366.4C1581.9 362.9 1585.2 360.2 1588.7 356.6C1592.1 352.9 1597.3 346.9 1600.5 343.7C1603.7 340.6 1605.5 338.9 1608.4 336.8C1611.2 334.8 1615.1 332.5 1618.3 330.9C1621.4 329.3 1625.4 328.2 1628.1 327C1630.8 325.7 1632.3 323.8 1635 322.8C1637.7 321.9 1641.7 321.4 1645.2 321.1C1648.8 320.9 1653.9 320.6 1657.2 321.1C1660.4 321.6 1662.7 322.8 1665.7 324.2C1668.7 325.6 1672.6 327.7 1675.9 329.6C1679.2 331.6 1683.1 334.1 1686.1 336.5C1689.1 338.8 1691.9 341.9 1694.6 344.1C1697.4 346.3 1700.2 348.1 1703.2 350.1C1706.2 352.1 1710.1 354.7 1713.4 356.9C1716.7 359.1 1720.3 361.8 1723.6 363.7C1726.9 365.6 1731.1 366.9 1733.8 368.8C1736.6 370.7 1738.5 374.3 1740.7 375.7C1742.8 377 1745.3 376.7 1747.5 377C1749.7 377.3 1752.1 376.8 1754.3 377.4C1756.5 378 1758.7 379.8 1761.1 380.8C1763.6 381.7 1766.6 382.9 1769.6 383.3C1772.6 383.7 1776.3 383 1779.9 383.3C1783.4 383.7 1787.9 385.1 1791.7 385.5C1795.4 386 1800 386.4 1803.3 386C1806.7 385.6 1809.7 385 1812.6 383.2C1815.6 381.5 1818.6 377.5 1822 375C1825.3 372.6 1829.5 369.4 1833.6 368.1C1837.7 366.7 1844.3 368.2 1847.6 366.9C1851 365.6 1851.6 362.7 1854.6 359.9C1857.6 357.1 1862.6 353.1 1866.3 349.4C1870 345.7 1874.2 340.7 1877.9 336.6C1881.7 332.5 1885.9 328.4 1889.6 323.7C1893.3 319.1 1897.9 312.1 1901.3 307.4C1904.6 302.8 1907.6 298.5 1910.6 294.6C1913.6 290.7 1917.6 286.2 1919.9 282.9C1922.2 279.7 1922.9 277.9 1925 274.3C1927.1 270.7 1930.4 263.7 1932.9 260.5C1935.4 257.3 1937.9 257.7 1940.8 254.6C1943.6 251.4 1947.5 244.4 1950.7 240.8C1953.8 237.1 1957.7 234 1960.5 231.9C1963.4 229.7 1965.7 228.2 1968.4 227.3C1971.1 226.5 1974.1 226 1977.3 226.6C1980.4 227.1 1984.8 229.3 1988.1 230.9C1991.5 232.5 1994.9 234.6 1998 236.8C2001.2 239 2005 242 2007.9 244.7C2010.7 247.4 2013.6 251.4 2015.8 253.6C2018 255.8 2019.2 256.8 2021.7 258.5C2024.2 260.3 2028.7 262.7 2031.6 264.4C2034.4 266.2 2036.9 267.8 2039.4 269.4C2042 271 2044.8 272.9 2047.3 274.3C2049.9 275.7 2052.7 276.7 2055.2 278.3C2057.8 279.8 2061.6 283.6 2063.1 284.2C2064.7 284.8 2063.4 281.6 2065 282C2066.6 282.4 2070.2 285.9 2073.1 286.8C2075.9 287.7 2079.4 287.4 2082.8 287.6C2086.1 287.9 2091 287.9 2094.1 288.4C2097.2 289 2099.5 290.1 2102.1 290.9C2104.7 291.6 2107.4 292.6 2110.2 293.3C2113 293.9 2116.8 294.4 2119.9 294.9C2123 295.4 2127.3 296.2 2129.6 296.5C2131.9 296.8 2132.1 295.5 2134.4 296.5C2136.7 297.5 2141.3 300.6 2144.1 303C2147 305.3 2149.3 308.2 2152.2 311C2155 313.9 2159.3 317.8 2161.9 320.7C2164.5 323.6 2165.7 326.7 2168.3 329.1C2170.9 331.6 2175.2 334.1 2178 336.1C2180.9 338 2183.5 338.9 2186.1 341.4C2188.7 343.8 2191.5 348.5 2194.2 351.4C2196.8 354.3 2201.2 358.2 2202.6 359.5" fill="none" stroke="#ff2323" stroke-opacity="0.8" stroke-width="2" stroke-linejoin="round"/><path d="M171.3 531.6C175.4 525 190.4 499.3 196.7 490C203 480.7 205.8 478.4 210.5 473.2C215.2 468 221.9 462.8 226.3 457.5C230.7 452.1 234 445.2 238.1 439.7C242.2 434.2 249.1 426.1 251.9 422.9C254.8 419.8 253.1 422.2 255.9 420C258.8 417.8 265.6 412.8 269.7 409.2C273.8 405.5 277.8 400.8 281.6 397.3C285.4 393.8 289 391.6 293.4 387.5C297.8 383.3 304.8 375.3 309.2 371.7C313.6 368 317.9 366 321 364.8C324.2 363.5 326.1 364.4 328.9 363.8C331.8 363.1 336.3 361.9 338.8 360.8C341.3 359.7 342.8 357.5 344.7 356.9C346.6 356.2 347.8 357.5 350.6 356.9C353.5 356.2 358.4 353.6 362.5 352.9C366.6 352.3 373.5 353.1 376.3 352.9C379.1 352.7 378 351.4 380 351.7C382 352.1 386.1 354.3 388.6 355.3C391.1 356.4 393.7 357.7 395.8 358.2C397.9 358.7 399.5 358.2 401.5 358.6C403.6 359.1 405.9 360.1 408.7 361.1C411.5 362 416 364 418.7 364.7C421.5 365.3 423.6 364.6 425.9 364.9C428.2 365.3 430.3 366.5 433.1 366.8C435.8 367.1 440.2 367.2 443.1 366.8C446.1 366.5 449.2 365 451.7 364.7C454.3 364.3 456.6 365 458.9 364.7C461.2 364.4 463.8 363.1 466.1 362.8C468.4 362.5 471 362.5 473.3 362.8C475.6 363.1 477.7 364.7 480.4 364.7C483.2 364.7 487.5 363.1 490.5 362.8C493.5 362.5 496.1 362.3 499.1 362.8C502.1 363.3 506.4 365.5 509.1 366.1C511.9 366.7 514 366.3 516.3 366.5C518.6 366.8 521 367.9 523.5 367.8C526 367.7 529.6 366.9 532.1 366.1C534.6 365.3 536.7 363.1 539.3 362.5C542 362 545.7 363.1 548.7 362.5C551.6 362 554.6 360.9 558 359C561.3 357.2 566.7 352.6 569.6 350.9C572.6 349.2 573.3 350.4 576.6 348.5C580 346.7 586.2 342.4 590.6 339.2C595.1 336 600.5 332.6 604.6 328.7C608.7 324.8 613.3 317.7 616.3 314.7C619.3 311.7 620.7 312.9 623.3 310.1C625.9 307.3 628.9 301.5 632.6 297.2C636.3 292.9 642.5 286.8 646.6 283.2C650.7 279.7 654.2 278.8 658.3 275.1C662.4 271.4 668.5 264.4 672.3 259.9C676 255.4 678.8 250.5 681.6 247.1C684.4 243.7 687.5 241.5 690 238.9C692.4 236.3 694.4 233 697 230.9C699.6 228.8 703.3 226.7 706.3 225.7C709.3 224.8 712.6 225.7 715.6 225C718.6 224.4 721.6 222.1 724.9 221.5C728.3 221 733.6 221.6 736.6 221.5C739.6 221.5 741 221.5 743.6 221.1C746.2 220.6 748.5 219.1 752.9 218.8C757.4 218.4 767.8 218.6 771.6 218.8C775.4 218.9 774.9 218.8 776.8 219.5C778.8 220.1 778.1 222.4 783.7 223C789.4 223.6 806.8 222.7 812.4 223C817.9 223.3 816.1 224 818.3 225C820.5 225.9 823.8 228 826.2 228.9C828.5 229.9 831.2 230 833.1 230.9C835 231.8 835.3 233.3 838 234.8C840.7 236.4 846.4 238.5 849.8 240.4C853.3 242.3 856.2 245 859.7 246.7C863.2 248.3 867.8 249.4 871.6 250.6C875.3 251.9 879.9 253.3 883.4 254.6C886.9 255.8 888.8 256.9 893.3 258.5C897.7 260.2 906.9 263.7 911 264.8C915.1 265.9 915.3 264.6 918.9 265.4C922.5 266.3 928.6 267.5 933.7 270C938.8 272.5 946.1 277.1 950.9 280.8C955.7 284.4 959.3 288.8 963.8 292.6C968.3 296.4 974.4 300.5 978.9 304.4C983.4 308.4 987.7 313.4 991.8 317.4C995.9 321.3 1000.9 326.3 1004.7 329.2C1008.5 332.1 1012.4 333.2 1015.5 335.6C1018.6 338.1 1021 341.7 1024.1 344.3C1027.2 346.8 1031.7 349.7 1034.8 351.4C1037.9 353 1041 353.4 1043.4 354.4C1045.9 355.3 1047.5 356.9 1049.9 357.2C1052.3 357.4 1056.8 356.6 1058.5 356.1C1060.3 355.6 1059.6 354.2 1060.9 354.2C1062.3 354.2 1064.8 355.4 1066.8 356.1C1068.9 356.9 1071.5 358.3 1073.7 358.7C1076 359.1 1078.6 359.1 1080.7 358.7C1082.7 358.4 1079.8 356.9 1086.6 356.5C1093.4 356.2 1114.9 357.9 1123.1 356.5C1131.3 355.2 1133.9 350.5 1137.9 348.3C1141.8 346 1144.3 344.2 1147.7 342.3C1151.2 340.4 1155.8 338.6 1159.6 336.4C1163.4 334.3 1168.3 330.2 1171.4 328.9C1174.6 327.6 1176.5 328.5 1179.3 328.1C1182.2 327.8 1186 327.1 1189.2 326.6C1192.3 326 1195.7 325.1 1199 324.6C1202.4 324 1206.6 323.4 1209.9 323.1C1213.2 322.8 1216.9 323.4 1219.7 322.7C1222.6 322.1 1224.5 319.8 1227.6 319.2C1230.8 318.6 1236 319.2 1239.5 318.8C1242.9 318.4 1246.2 316.9 1249.3 316.8C1252.5 316.7 1255.7 318.1 1259.2 318.2C1262.7 318.3 1267.9 317.3 1271 317.6C1274.2 317.9 1276.1 319.3 1278.9 320.2C1281.8 321.1 1285.3 322 1288.8 323.1C1292.3 324.2 1297.2 325.4 1300.6 327.1C1304.1 328.8 1307 332.1 1310.5 334C1314 335.9 1319.2 337.3 1322.3 338.9C1325.5 340.5 1327.1 342.3 1330.2 343.9C1333.4 345.4 1338.9 347.4 1342.1 348.8C1345.2 350.2 1347.1 350.5 1350 352.7C1352.8 354.9 1355.5 358 1360 362.6C1364.5 367.2 1372.4 377 1378 381.4C1383.6 385.8 1391.1 387.8 1395.2 390C1399.4 392.2 1401.5 394.2 1403.8 395C1406.1 395.8 1405.9 394.1 1409.6 395C1413.2 395.9 1423.3 399.8 1426.8 400.8C1430.2 401.7 1428.1 400 1431.1 400.8C1434.1 401.6 1440.6 404.1 1445.4 405.8C1450.3 407.5 1457.6 410.4 1461.2 411.2C1464.9 412.1 1465 410.5 1468.4 411.2C1471.8 412 1479.3 414.9 1482.8 416.1C1486.2 417.4 1487.3 418.6 1489.9 419.1C1492.6 419.6 1496.4 419.1 1499.3 419.1C1502.1 419.1 1504.5 419.8 1507.8 419.1C1511 418.4 1515.8 416.7 1519.6 414.8C1523.4 412.8 1528 408.8 1531.4 406.9C1534.9 405 1538.5 404.7 1541.3 402.9C1544.1 401.2 1546.4 398.2 1549.2 396C1552 393.8 1555.9 391.3 1559.1 389.1C1562.2 386.9 1565.8 384.3 1568.9 382.2C1572.1 380.1 1575.6 377.7 1578.8 376.3C1581.9 374.9 1585.8 373.9 1588.7 373.3C1591.5 372.8 1593.7 373.2 1596.6 372.7C1599.4 372.3 1602.9 371.2 1606.4 370.4C1609.9 369.5 1615.1 368 1618.3 367.4C1621.4 366.8 1623.5 366.8 1626.1 366.4C1628.8 366 1632.5 365.6 1635 365.1C1637.5 364.6 1639.8 364.1 1641.8 363.4C1643.9 362.7 1646.1 361.4 1647.8 360.7C1649.4 359.9 1650.3 359.2 1652 358.6C1653.8 358 1653.4 357.2 1658.9 356.9C1664.3 356.6 1680.1 356.6 1686.1 356.9C1692.1 357.2 1693.4 357.7 1696.3 358.6C1699.3 359.6 1702.4 361.5 1704.9 362.9C1707.3 364.2 1709.2 365.9 1711.7 367.1C1714.1 368.4 1717.5 369.6 1720.2 370.5C1722.9 371.5 1726 372.7 1728.7 373.1C1731.5 373.5 1734.8 372.8 1737.2 373.1C1739.7 373.4 1741.3 374.5 1744.1 374.8C1746.8 375.1 1751.3 375.2 1754.3 374.8C1757.3 374.4 1760.4 372.7 1762.8 372.2C1765.3 371.8 1766.9 372.8 1769.6 372.2C1772.4 371.7 1776.3 369.1 1779.9 368.8C1783.4 368.5 1786 370.1 1791.7 370.4C1797.3 370.6 1809.8 370.9 1815 370.4C1820.2 369.9 1821 367.6 1824.3 367.4C1827.7 367.1 1831.9 368.5 1836 368.8C1840.1 369 1846.2 369.6 1850 368.8C1853.7 367.9 1856.7 364.8 1859.3 363.4C1861.9 362 1864 361.6 1866.3 359.9C1868.5 358.1 1870.3 354.9 1873.3 352.4C1876.3 350 1881.2 347.8 1884.9 344.7C1888.7 341.6 1892.9 336.8 1896.6 333.1C1900.3 329.3 1904.5 324.6 1908.3 321.4C1912 318.2 1917.2 315.4 1919.9 313.2C1922.6 311.1 1922.6 310.5 1925 308.2C1927.4 306 1931.4 301.7 1934.9 299C1938.3 296.2 1943.2 292.9 1946.7 291.1C1950.2 289.3 1953.7 288.7 1956.6 287.7C1959.4 286.8 1959.7 285.6 1964.5 285.2C1969.2 284.8 1980.8 284.6 1986.2 285.2C1991.5 285.7 1994.9 288.1 1998 288.7C2001.2 289.3 2002.7 288 2005.9 288.7C2009.1 289.4 2014.6 292.4 2017.7 293.1C2020.9 293.7 2022.8 293.3 2025.6 293.1C2028.5 292.8 2032.3 292.5 2035.5 291.7C2038.7 290.9 2042.5 289 2045.4 288.1C2048.2 287.2 2050.4 286.5 2053.3 286.1C2056.1 285.8 2061.2 286 2063.1 286.1C2065 286.3 2063.7 287 2065 286.8C2066.3 286.6 2067.8 285.1 2071.5 284.9C2075.1 284.6 2083.5 284.8 2087.6 285.2C2091.7 285.6 2094.2 286.7 2097.3 287.6C2100.4 288.5 2103.9 290 2107 290.9C2110.1 291.8 2113.8 292.4 2116.7 293.3C2119.5 294.1 2122.2 295.4 2124.7 296.2C2127.3 297 2130 297.4 2132.8 298.4C2135.6 299.5 2139.7 301.6 2142.5 303C2145.3 304.3 2147.5 305.8 2150.6 307C2153.7 308.2 2159 309.4 2161.9 310.7C2164.7 312 2166.4 314.5 2168.3 315.1C2170.3 315.7 2172.2 313.9 2174 314.6C2175.8 315.2 2177.7 318.4 2179.6 319.1C2181.6 319.8 2184 318.1 2186.1 318.8C2188.2 319.4 2189.9 321.8 2192.5 323.1C2195.2 324.5 2201 326.5 2202.6 327.2" fill="none" stroke="#2323fb" stroke-opacity="0.8" stroke-width="2" stroke-linejoin="round"/><path d="M9.05 656.2h1.9V681.3h-1.9ZM13.05 635.9h1.9V659.6h-1.9ZM31.05 614.2h1.9V659.6h-1.9ZM37.05 576.1h1.9V625.6h-1.9ZM43.05 542.2h1.9V551.4h-1.9ZM49.05 500.1h1.9V529.7h-1.9ZM55.05 474.1h1.9V533.7h-1.9ZM77.05 520.1h1.9V551.4h-1.9ZM83.05 513.9h1.9V551.6h-1.9ZM95.05 512.2h1.9V527.8h-1.9ZM107.05 464h1.9V543h-1.9ZM119.05 441.7h1.9V483.1h-1.9ZM123.05 418h1.9V461.8h-1.9ZM135.05 412.1h1.9V441.7h-1.9ZM147.05 421.9h1.9V451.5h-1.9ZM153.05 406.1h1.9V435.7h-1.9ZM165.05 384h1.9V435.7h-1.9ZM171.05 349.9h1.9V351.5h-1.9ZM175.05 307.9h1.9V351.5h-1.9ZM181.05 284.2h1.9V340h-1.9ZM193.05 284.2h1.9V315.8h-1.9ZM199.05 284.2h1.9V311.8h-1.9ZM223.05 302.2h1.9V346h-1.9ZM229.05 284.2h1.9V303.9h-1.9ZM233.05 280.3h1.9V305.9h-1.9ZM239.05 266.1h1.9V302h-1.9ZM245.05 264.1h1.9V292.1h-1.9ZM251.05 266.1h1.9V279.9h-1.9ZM269.05 268.1h1.9V311.5h-1.9ZM281.05 272h1.9V305.6h-1.9ZM297.05 242h1.9V281.5h-1.9ZM333.05 296.1h1.9V357.9h-1.9ZM344.05 283.9h1.9V317.8h-1.9ZM355.05 287.8h1.9V341.7h-1.9ZM367.05 330.2h1.9V381.5h-1.9ZM373.05 319.8h1.9V355.5h-1.9ZM395.05 382.2h1.9V413.4h-1.9ZM413.05 374h1.9V399.8h-1.9ZM425.05 384h1.9V413.4h-1.9ZM437.05 358.2h1.9V406h-1.9ZM453.05 336h1.9V357.8h-1.9ZM465.05 304.1h1.9V337.8h-1.9ZM483.05 348.2h1.9V394.1h-1.9ZM489.05 336h1.9V363.9h-1.9ZM495.05 337.8h1.9V374h-1.9ZM511.05 380h1.9V407.7h-1.9ZM517.05 384h1.9V411.7h-1.9ZM523.05 367.8h1.9V394.1h-1.9ZM529.05 340h1.9V375.9h-1.9ZM535.05 304.1h1.9V337.8h-1.9ZM541.05 279.7h1.9V327.6h-1.9ZM553.05 315.9h1.9V347.4h-1.9ZM557.05 293.7h1.9V321.7h-1.9ZM563.05 276.2h1.9V315.9h-1.9ZM569.05 252.2h1.9V310.1h-1.9ZM581.05 245.9h1.9V284.4h-1.9ZM593.05 220.3h1.9V275.8h-1.9ZM605.05 198.1h1.9V261.6h-1.9ZM611.05 176h1.9V195.8h-1.9ZM627.05 144h1.9V190h-1.9ZM633.05 115.3h1.9V159.6h-1.9ZM639.05 115.3h1.9V167.8h-1.9ZM663.05 140.3h1.9V179.9h-1.9ZM673.05 116.1h1.9V165.6h-1.9ZM679.05 88.2h1.9V119.4h-1.9ZM685.05 54.1h1.9V56h-1.9ZM721.05 180h1.9V232h-1.9ZM731.05 194h1.9V235.5h-1.9ZM743.05 190.1h1.9V232h-1.9ZM749.05 172.1h1.9V207.6h-1.9ZM783.05 214.1h1.9V248.1h-1.9ZM795.05 214.1h1.9V253.6h-1.9ZM801.05 182h1.9V220h-1.9ZM830.05 292.1h1.9V321.7h-1.9ZM859.05 296h1.9V329.6h-1.9ZM865.05 280.2h1.9V309.8h-1.9ZM877.05 290.1h1.9V311.8h-1.9ZM883.05 269.8h1.9V309.4h-1.9ZM905.05 282.2h1.9V329.6h-1.9ZM911.05 278.3h1.9V300h-1.9ZM975.05 432.5h1.9V457.7h-1.9ZM993.05 451.9h1.9V483.7h-1.9ZM997.05 434h1.9V465.9h-1.9ZM1003.05 423.9h1.9V463.7h-1.9ZM1009.05 428.2h1.9V460.1h-1.9ZM1027.05 468h1.9V499.9h-1.9ZM1033.05 442.2h1.9V465.9h-1.9ZM1039.05 406h1.9V433.6h-1.9ZM1049.05 375.9h1.9V386.2h-1.9ZM1055.05 333.9h1.9V367.9h-1.9ZM1079.05 366h1.9V387.7h-1.9ZM1085.05 326h1.9V395.6h-1.9ZM1103.05 318.1h1.9V377.9h-1.9ZM1119.05 334h1.9V383.8h-1.9ZM1125.05 301.9h1.9V326h-1.9ZM1131.05 266h1.9V309.8h-1.9ZM1143.05 248h1.9V294h-1.9ZM1165.05 232.2h1.9V273.9h-1.9ZM1189.05 286.1h1.9V313.7h-1.9ZM1195.05 269.9h1.9V303.9h-1.9ZM1207.05 280.2h1.9V297.5h-1.9ZM1223.05 296.1h1.9V323.7h-1.9ZM1229.05 274.2h1.9V307.9h-1.9ZM1241.05 280.1h1.9V306h-1.9ZM1265.05 296.1h1.9V332h-1.9ZM1269.05 288h1.9V304h-1.9ZM1293.05 362h1.9V401.7h-1.9ZM1311.05 410h1.9V435.6h-1.9ZM1317.05 383.9h1.9V419.8h-1.9ZM1333.05 398.1h1.9V423.8h-1.9ZM1357.05 458.2h1.9V475.8h-1.9ZM1369.05 492.2h1.9V523.7h-1.9ZM1374.05 462.2h1.9V497.6h-1.9ZM1391.05 486.1h1.9V504.1h-1.9ZM1403.05 460h1.9V493.6h-1.9ZM1409.05 428h1.9V467.9h-1.9ZM1421.05 429.9h1.9V451.7h-1.9ZM1427.05 420.1h1.9V450h-1.9ZM1443.05 429.9h1.9V451.7h-1.9ZM1449.05 431.9h1.9V453.9h-1.9ZM1455.05 412h1.9V447.8h-1.9ZM1467.05 438.1h1.9V456h-1.9ZM1485.05 443.8h1.9V467.9h-1.9ZM1495.05 446h1.9V469.9h-1.9ZM1501.05 414.2h1.9V445.3h-1.9ZM1507.05 380.2h1.9V409.8h-1.9ZM1513.05 357.9h1.9V400h-1.9ZM1525.05 326h1.9V383.8h-1.9ZM1531.05 306.2h1.9V337.8h-1.9ZM1541.05 318.1h1.9V347.7h-1.9ZM1547.05 287.9h1.9V327.5h-1.9ZM1565.05 280h1.9V301.9h-1.9ZM1571.05 264.2h1.9V291.8h-1.9ZM1611.05 326h1.9V359.9h-1.9ZM1617.05 312.2h1.9V339.8h-1.9ZM1623.05 312.2h1.9V331.9h-1.9ZM1635.05 320h1.9V351.6h-1.9ZM1641.05 292.2h1.9V327.9h-1.9ZM1646.05 276h1.9V325.4h-1.9ZM1669.05 316h1.9V348.1h-1.9ZM1715.05 412.3h1.9V434.1h-1.9ZM1721.05 408h1.9V425.9h-1.9ZM1727.05 400h1.9V425.9h-1.9ZM1745.05 388.1h1.9V423.9h-1.9ZM1751.05 358.1h1.9V391.8h-1.9ZM1757.05 338.2h1.9V364.1h-1.9ZM1761.05 326.2h1.9V358.1h-1.9ZM1773.05 334.2h1.9V360h-1.9ZM1809.05 350.1h1.9V397.9h-1.9ZM1815.05 326.1h1.9V354.1h-1.9ZM1819.05 312.1h1.9V344h-1.9ZM1843.05 355.9h1.9V396h-1.9ZM1849.05 337.7h1.9V364.6h-1.9ZM1855.05 313.9h1.9V357.6h-1.9ZM1861.05 277.8h1.9V284.1h-1.9ZM1867.05 235.8h1.9V271.3h-1.9ZM1871.05 216h1.9V249.8h-1.9ZM1877.05 228.1h1.9V249.8h-1.9ZM1889.05 206h1.9V239.8h-1.9ZM1895.05 178h1.9V225.8h-1.9ZM1919.05 190.1h1.9V220h-1.9ZM1924.05 193.8h1.9V216h-1.9ZM1929.05 170.3h1.9V199.7h-1.9ZM1947.05 192h1.9V222h-1.9ZM1953.05 204.3h1.9V226h-1.9ZM1977.05 273.9h1.9V301.9h-1.9ZM1987.05 266h1.9V285.8h-1.9ZM2005.05 318.1h1.9V328.2h-1.9ZM2023.05 286.1h1.9V303.9h-1.9ZM2034.05 269.8h1.9V294h-1.9ZM2039.05 239.8h1.9V287.7h-1.9ZM2045.05 227.9h1.9V253.6h-1.9ZM2063.05 235.8h1.9V286.1h-1.9ZM2075.05 256h1.9V275.9h-1.9ZM2127.05 332h1.9V365.9h-1.9ZM2161.05 380.1h1.9V386.1h-1.9ZM2167.05 372.1h1.9V392.1h-1.9ZM2173.05 360h1.9V361.9h-1.9ZM2185.05 361.9h1.9V378h-1.9ZM2201.05 384.2h1.9V390.1h-1.9Z" fill="#a3c9cf"/><path d="M-2.95 610.2h1.9V657.6h-1.9ZM3.05 620.1h1.9V679.3h-1.9ZM19.05 626h1.9V651.7h-1.9ZM25.05 644.2h1.9V669.4h-1.9ZM61.05 488.3h1.9V519.5h-1.9ZM65.05 494.2h1.9V533.3h-1.9ZM71.05 510h1.9V545.7h-1.9ZM89.05 526.4h1.9V571.8h-1.9ZM101.05 484h1.9V526h-1.9ZM113.05 466h1.9V502h-1.9ZM129.05 406.1h1.9V445.6h-1.9ZM141.05 421.9h1.9V447.6h-1.9ZM159.05 408.1h1.9V433.8h-1.9ZM187.05 279.9h1.9V321.9h-1.9ZM205.05 294.1h1.9V321.9h-1.9ZM211.05 296h1.9V319.7h-1.9ZM217.05 309.9h1.9V353.9h-1.9ZM257.05 283.9h1.9V311.5h-1.9ZM263.05 279.9h1.9V333.2h-1.9ZM275.05 232h1.9V289.4h-1.9ZM285.05 262.2h1.9V287.8h-1.9ZM291.05 264.1h1.9V295.7h-1.9ZM303.05 216.2h1.9V255.6h-1.9ZM309.05 230h1.9V279.5h-1.9ZM315.05 281.9h1.9V311.5h-1.9ZM321.05 300h1.9V303.6h-1.9ZM327.05 291.8h1.9V343.6h-1.9ZM339.05 287.8h1.9V367.7h-1.9ZM349.05 287.8h1.9V343.6h-1.9ZM361.05 304h1.9V357.9h-1.9ZM379.05 325.9h1.9V363.8h-1.9ZM385.05 348h1.9V393.8h-1.9ZM391.05 404.1h1.9V427.8h-1.9ZM401.05 358.2h1.9V399.8h-1.9ZM407.05 388.3h1.9V427.8h-1.9ZM419.05 366.1h1.9V412h-1.9ZM431.05 380h1.9V413.4h-1.9ZM443.05 325.9h1.9V368.2h-1.9ZM447.05 343.9h1.9V389.8h-1.9ZM459.05 308h1.9V367.5h-1.9ZM471.05 323.8h1.9V357.8h-1.9ZM477.05 346h1.9V391.9h-1.9ZM501.05 346h1.9V384.7h-1.9ZM505.05 374h1.9V413.7h-1.9ZM547.05 298.4h1.9V345.7h-1.9ZM575.05 232.2h1.9V281.6h-1.9ZM587.05 242h1.9V287.9h-1.9ZM599.05 194.2h1.9V265.8h-1.9ZM615.05 158h1.9V199.8h-1.9ZM621.05 163.8h1.9V204h-1.9ZM645.05 117.7h1.9V167.8h-1.9ZM651.05 151.9h1.9V190h-1.9ZM657.05 165.9h1.9V190h-1.9ZM667.05 140.3h1.9V176h-1.9ZM691.05 12.1h1.9V101.7h-1.9ZM697.05 96.1h1.9V111.9h-1.9ZM703.05 102.1h1.9V157.4h-1.9ZM709.05 118.2h1.9V185.9h-1.9ZM715.05 190.1h1.9V215.7h-1.9ZM725.05 186.1h1.9V232h-1.9ZM737.05 195.9h1.9V241.8h-1.9ZM755.05 167.9h1.9V209.9h-1.9ZM761.05 187.7h1.9V211.8h-1.9ZM767.05 186.1h1.9V218.1h-1.9ZM774.05 212.2h1.9V246h-1.9ZM777.05 222h1.9V255.6h-1.9ZM789.05 240.2h1.9V273.9h-1.9ZM807.05 186.1h1.9V229.9h-1.9ZM813.05 246.1h1.9V257.5h-1.9ZM819.05 256h1.9V300h-1.9ZM825.05 256h1.9V331.5h-1.9ZM835.05 282.2h1.9V309.8h-1.9ZM841.05 290.1h1.9V323.6h-1.9ZM847.05 309.8h1.9V345.3h-1.9ZM853.05 301.9h1.9V343.8h-1.9ZM871.05 296h1.9V329.6h-1.9ZM887.05 284.2h1.9V323.6h-1.9ZM893.05 300h1.9V319.7h-1.9ZM899.05 301.9h1.9V331.5h-1.9ZM917.05 280.2h1.9V305.9h-1.9ZM923.05 288.3h1.9V305.5h-1.9ZM929.05 290h1.9V314.1h-1.9ZM935.05 300.1h1.9V323.8h-1.9ZM939.05 312h1.9V356.1h-1.9ZM945.05 337.8h1.9V381.9h-1.9ZM951.05 374.4h1.9V414.2h-1.9ZM957.05 378.3h1.9V415.9h-1.9ZM963.05 395.9h1.9V447.6h-1.9ZM969.05 442.2h1.9V482h-1.9ZM981.05 398.5h1.9V454h-1.9ZM987.05 440h1.9V473.8h-1.9ZM1015.05 434h1.9V465.9h-1.9ZM1021.05 456.2h1.9V499.9h-1.9ZM1045.05 403.9h1.9V433.6h-1.9ZM1061.05 323.8h1.9V356.1h-1.9ZM1067.05 354.2h1.9V387.7h-1.9ZM1073.05 388.1h1.9V430.1h-1.9ZM1091.05 301.9h1.9V331.9h-1.9ZM1097.05 324h1.9V366h-1.9ZM1107.05 307.8h1.9V364h-1.9ZM1113.05 347.9h1.9V385.7h-1.9ZM1137.05 266h1.9V309.8h-1.9ZM1149.05 236.2h1.9V266h-1.9ZM1155.05 232.2h1.9V275.8h-1.9ZM1159.05 244.1h1.9V275.8h-1.9ZM1171.05 223.9h1.9V266h-1.9ZM1177.05 252h1.9V294h-1.9ZM1183.05 286.1h1.9V315.7h-1.9ZM1201.05 271.9h1.9V299.9h-1.9ZM1213.05 282.1h1.9V313.7h-1.9ZM1217.05 300.1h1.9V319.8h-1.9ZM1235.05 274.2h1.9V307.9h-1.9ZM1247.05 282.1h1.9V306h-1.9ZM1253.05 284.1h1.9V323.7h-1.9ZM1259.05 307.9h1.9V337.9h-1.9ZM1275.05 296.1h1.9V343.9h-1.9ZM1281.05 343.9h1.9V375.8h-1.9ZM1287.05 366h1.9V407.6h-1.9ZM1299.05 356.1h1.9V397.7h-1.9ZM1305.05 397.7h1.9V431.7h-1.9ZM1323.05 376h1.9V407.6h-1.9ZM1327.05 406h1.9V439.6h-1.9ZM1339.05 402.1h1.9V421.8h-1.9ZM1345.05 419.8h1.9V445.5h-1.9ZM1351.05 436h1.9V480h-1.9ZM1363.05 480.1h1.9V516h-1.9ZM1379.05 472.1h1.9V513.7h-1.9ZM1385.05 516h1.9V541.7h-1.9ZM1397.05 470.1h1.9V491.6h-1.9ZM1415.05 420.1h1.9V447.8h-1.9ZM1431.05 410.1h1.9V435.9h-1.9ZM1437.05 429.9h1.9V453.9h-1.9ZM1461.05 435.9h1.9V459.9h-1.9ZM1473.05 435.9h1.9V453.9h-1.9ZM1479.05 429.9h1.9V469.9h-1.9ZM1489.05 447.8h1.9V469.9h-1.9ZM1519.05 346.1h1.9V381.8h-1.9ZM1537.05 308.2h1.9V349.6h-1.9ZM1553.05 266.2h1.9V296h-1.9ZM1559.05 283.9h1.9V305.8h-1.9ZM1577.05 278h1.9V309.8h-1.9ZM1583.05 294h1.9V324h-1.9ZM1589.05 297.9h1.9V337.8h-1.9ZM1595.05 314.1h1.9V343.7h-1.9ZM1599.05 322h1.9V345.7h-1.9ZM1605.05 329.9h1.9V359.9h-1.9ZM1629.05 329.9h1.9V347.7h-1.9ZM1651.05 290.1h1.9V325.4h-1.9ZM1657.05 314.3h1.9V341.6h-1.9ZM1663.05 320.3h1.9V348.1h-1.9ZM1675.05 338.2h1.9V362h-1.9ZM1681.05 358.1h1.9V370h-1.9ZM1687.05 352.1h1.9V376h-1.9ZM1693.05 358.1h1.9V414h-1.9ZM1699.05 391.8h1.9V416.2h-1.9ZM1705.05 394.4h1.9V440.1h-1.9ZM1709.05 403.8h1.9V452h-1.9ZM1733.05 390.1h1.9V420h-1.9ZM1739.05 402.1h1.9V423.9h-1.9ZM1767.05 326.2h1.9V356.1h-1.9ZM1779.05 326.2h1.9V348.1h-1.9ZM1785.05 336.1h1.9V365.9h-1.9ZM1791.05 351.7h1.9V379.7h-1.9ZM1797.05 364.6h1.9V383.9h-1.9ZM1803.05 363.4h1.9V399.5h-1.9ZM1825.05 323.7h1.9V344h-1.9ZM1831.05 340.1h1.9V370.4h-1.9ZM1837.05 357.6h1.9V399.5h-1.9ZM1883.05 220h1.9V253.8h-1.9ZM1901.05 162.1h1.9V207.8h-1.9ZM1907.05 186.1h1.9V220h-1.9ZM1913.05 201.8h1.9V235.8h-1.9ZM1935.05 158.3h1.9V211.8h-1.9ZM1941.05 204.3h1.9V222h-1.9ZM1959.05 229.9h1.9V257.9h-1.9ZM1965.05 227.9h1.9V257.9h-1.9ZM1971.05 244.1h1.9V296h-1.9ZM1981.05 261.9h1.9V285.8h-1.9ZM1993.05 296h1.9V325.6h-1.9ZM1999.05 328.2h1.9V330h-1.9ZM2011.05 328.2h1.9V330h-1.9ZM2017.05 324h1.9V335.9h-1.9ZM2029.05 268h1.9V294h-1.9ZM2051.05 235.8h1.9V265.8h-1.9ZM2057.05 250h1.9V286.1h-1.9ZM2069.05 257.9h1.9V287.7h-1.9ZM2081.05 254.2h1.9V277.9h-1.9ZM2087.05 269.9h1.9V301.8h-1.9ZM2091.05 280h1.9V301.8h-1.9ZM2097.05 282h1.9V313.9h-1.9ZM2103.05 298.1h1.9V328h-1.9ZM2109.05 305.9h1.9V344.1h-1.9ZM2115.05 322h1.9V372.1h-1.9ZM2121.05 338h1.9V370h-1.9ZM2133.05 315.9h1.9V350.1h-1.9ZM2139.05 346.1h1.9V380.1h-1.9ZM2143.05 361.9h1.9V384h-1.9ZM2149.05 355.9h1.9V378h-1.9ZM2155.05 382.1h1.9V384h-1.9ZM2179.05 355.9h1.9V378h-1.9ZM2191.05 364h1.9V388h-1.9ZM2197.05 392.1h1.9V396.1h-1.9Z" fill="#f5a5ad"/><path d="M7 656.2h6V675.3h-6ZM11 646.3h6V657.6h-6ZM29 616.1h6V657.6h-6ZM35 576.1h6V617.5h-6ZM41 542.2h6V545.7h-6ZM47 500.1h6V527.9h-6ZM53 500.1h6V531.7h-6ZM75 534.3h6V541.8h-6ZM81 527.9h6V551.6h-6ZM93 512.2h6V527.8h-6ZM105 474h6V526h-6ZM117 460h6V471.7h-6ZM121 421.9h6V461.8h-6ZM133 432.2h6V435.7h-6ZM145 442.1h6V450h-6ZM151 418h6V435.7h-6ZM163 384h6V423.9h-6ZM169 349.8h6V351.6h-6ZM173 327.8h6V342h-6ZM179 298h6V317.9h-6ZM191 303.9h6V311.8h-6ZM197 292.1h6V309.9h-6ZM221 302.2h6V340h-6ZM227 288.2h6V302.2h-6ZM231 292.1h6V296h-6ZM237 284.2h6V290.1h-6ZM243 276h6V277.8h-6ZM249 272.4h6V277.9h-6ZM267 268.1h6V311.5h-6ZM279 279.9h6V303.6h-6ZM295 242h6V281.5h-6ZM331 300h6V339.7h-6ZM342 293.7h6V309.9h-6ZM353 307.9h6V315.8h-6ZM365 335.9h6V337.7h-6ZM371 331.8h6V347.6h-6ZM393 382.2h6V407.7h-6ZM411 374h6V399.8h-6ZM423 400.2h6V407.7h-6ZM435 358.2h6V399.8h-6ZM451 336h6V355.8h-6ZM463 320.2h6V331.7h-6ZM481 360.1h6V381.9h-6ZM487 343.9h6V359.6h-6ZM493 350h6V355.8h-6ZM509 398h6V407.7h-6ZM515 395.9h6V406h-6ZM521 384h6V394.1h-6ZM527 340h6V375.9h-6ZM533 304.1h6V319.9h-6ZM539 312.4h6V318.2h-6ZM551 324.1h6V343.9h-6ZM555 312.4h6V318.2h-6ZM561 279.7h6V315.9h-6ZM567 252.2h6V281.6h-6ZM579 259.9h6V277.4h-6ZM591 220.3h6V275.8h-6ZM603 210.3h6V261.6h-6ZM609 176h6V195.8h-6ZM625 144h6V183.7h-6ZM631 140.3h6V143.8h-6ZM637 134h6V139.8h-6ZM661 148h6V179.9h-6ZM671 116.1h6V165.6h-6ZM677 88.2h6V109.6h-6ZM683 54.1h6V56h-6ZM719 192.4h6V214.1h-6ZM729 201.7h6V225.7h-6ZM741 201.7h6V219.9h-6ZM747 184.2h6V199.9h-6ZM781 236.2h6V248.1h-6ZM793 214.1h6V253.6h-6ZM799 197.9h6V203.9h-6ZM828 298h6V301.9h-6ZM857 303.9h6V317.7h-6ZM863 294h6V303.9h-6ZM875 301.9h6V309.4h-6ZM881 292.1h6V309.4h-6ZM903 298h6V319.7h-6ZM909 290h6V291.8h-6ZM973 432.5h6V457.7h-6ZM991 465.9h6V473.8h-6ZM995 456.2h6V465.9h-6ZM1001 446.1h6V457.3h-6ZM1007 438.3h6V457.7h-6ZM1025 471.9h6V487.8h-6ZM1031 442.2h6V455.5h-6ZM1037 406h6V422.2h-6ZM1047 375.9h6V379.8h-6ZM1053 342.1h6V357.8h-6ZM1077 366h6V377.9h-6ZM1083 326h6V370h-6ZM1101 331.9h6V377.9h-6ZM1117 334h6V371.9h-6ZM1123 301.9h6V319.6h-6ZM1129 299.9h6V303.9h-6ZM1141 248h6V294h-6ZM1163 252h6V269.9h-6ZM1187 303.9h6V311.8h-6ZM1193 284.1h6V303.9h-6ZM1205 292h6V297.5h-6ZM1221 304h6V315.8h-6ZM1227 278.2h6V304h-6ZM1239 292h6V295.9h-6ZM1263 309.9h6V332h-6ZM1267 297.9h6V301.8h-6ZM1291 369.9h6V387.9h-6ZM1309 421.8h6V435.6h-6ZM1315 386.3h6V413.9h-6ZM1331 406h6V421.8h-6ZM1355 472.1h6V475.8h-6ZM1367 500.2h6V523.7h-6ZM1372 484h6V487.9h-6ZM1389 486.1h6V493.6h-6ZM1401 462.2h6V491.6h-6ZM1407 428h6V457.4h-6ZM1419 443.8h6V450h-6ZM1425 425.9h6V443.8h-6ZM1441 446h6V450h-6ZM1447 446h6V453.9h-6ZM1453 441.9h6V447.8h-6ZM1465 443.8h6V456h-6ZM1483 447.8h6V457.9h-6ZM1493 446h6V469.9h-6ZM1499 414.2h6V445.3h-6ZM1505 390.1h6V405.9h-6ZM1511 357.9h6V394h-6ZM1523 329.9h6V383.8h-6ZM1529 324h6V327.5h-6ZM1539 333.9h6V347.7h-6ZM1545 287.9h6V327.5h-6ZM1563 294h6V301.9h-6ZM1569 287.9h6V289.9h-6ZM1609 339.8h6V359.9h-6ZM1615 331.9h6V333.9h-6ZM1621 326h6V331.9h-6ZM1633 335.8h6V347.7h-6ZM1639 318.2h6V327.9h-6ZM1644 294.2h6V321.1h-6ZM1667 340.2h6V344.1h-6ZM1713 430.2h6V431.9h-6ZM1719 420h6V425.9h-6ZM1725 400h6V422.2h-6ZM1743 394.1h6V422.2h-6ZM1749 358.1h6V391.8h-6ZM1755 348.1h6V356.1h-6ZM1759 334.2h6V350.1h-6ZM1771 342.1h6V358.1h-6ZM1807 355.9h6V397.9h-6ZM1813 344h6V350.1h-6ZM1817 335.9h6V337.7h-6ZM1841 364.1h6V378.1h-6ZM1847 350.1h6V364.6h-6ZM1853 313.9h6V357.6h-6ZM1859 277.8h6V279.7h-6ZM1865 258h6V271.3h-6ZM1869 232.1h6V249.8h-6ZM1875 236.3h6V241.7h-6ZM1887 225.8h6V234h-6ZM1893 178h6V225.8h-6ZM1917 213.7h6V218.1h-6ZM1922 197.8h6V216h-6ZM1927 170.3h6V179.9h-6ZM1945 210.2h6V222h-6ZM1951 204.3h6V211.8h-6ZM1975 280.2h6V289.7h-6ZM1985 273.9h6V285.8h-6ZM2003 318.1h6V328.2h-6ZM2021 286.1h6V303.9h-6ZM2032 284.1h6V285.9h-6ZM2037 254h6V281.8h-6ZM2043 241.8h6V249.6h-6ZM2061 268h6V286.1h-6ZM2073 264h6V269.8h-6ZM2125 340.1h6V351.9h-6ZM2159 382.1h6V386.1h-6ZM2165 372.1h6V392.1h-6ZM2171 360h6V361.9h-6ZM2183 364h6V378h-6ZM2199 384.2h6V388h-6Z" fill="#53b987"/><path d="M-5 612.2h6V653.6h-6ZM1 630h6V673.4h-6ZM17 640.2h6V647.7h-6ZM23 644.2h6V665.5h-6ZM59 500.1h6V519.5h-6ZM63 522h6V525.8h-6ZM69 524h6V545.7h-6ZM87 526.4h6V543.7h-6ZM99 494h6V526h-6ZM111 476h6V502h-6ZM127 416h6V445.6h-6ZM139 432.2h6V445.6h-6ZM157 412.1h6V431.8h-6ZM185 296h6V317.9h-6ZM203 311.8h6V315.8h-6ZM209 305.9h6V317.9h-6ZM215 315.8h6V346h-6ZM255 283.9h6V311.5h-6ZM261 303.6h6V321.3h-6ZM273 257.8h6V289.4h-6ZM283 279.9h6V283.9h-6ZM289 277.9h6V289.8h-6ZM301 224.1h6V249.7h-6ZM307 233.9h6V273.6h-6ZM313 291.8h6V311.5h-6ZM319 300h6V303.6h-6ZM325 301.6h6V339.7h-6ZM337 291.8h6V317.8h-6ZM347 293.7h6V323.7h-6ZM359 317.8h6V343.6h-6ZM377 325.9h6V363.8h-6ZM383 348h6V393.8h-6ZM389 425.9h6V427.8h-6ZM399 376.1h6V397.7h-6ZM405 388.3h6V421.8h-6ZM417 374h6V403.4h-6ZM429 408.1h6V409.9h-6ZM441 358.2h6V361.8h-6ZM445 367.8h6V374h-6ZM457 318h6V347.7h-6ZM469 325.9h6V353.9h-6ZM475 346h6V391.9h-6ZM499 348.2h6V377.6h-6ZM503 374h6V402h-6ZM545 314h6V345.7h-6ZM573 232.2h6V277.4h-6ZM585 272.1h6V275.8h-6ZM597 194.2h6V257.6h-6ZM613 171.8h6V191.8h-6ZM619 194.2h6V195.8h-6ZM643 124.2h6V165.9h-6ZM649 163.8h6V179.9h-6ZM655 165.9h6V190h-6ZM665 146.1h6V165.9h-6ZM689 12.1h6V101.7h-6ZM695 110.1h6V111.9h-6ZM701 125.9h6V157.4h-6ZM707 118.2h6V185.9h-6ZM713 211.8h6V215.7h-6ZM723 195.9h6V223.9h-6ZM735 195.9h6V225.7h-6ZM753 176.1h6V203.6h-6ZM759 195.9h6V211.8h-6ZM765 205.9h6V218.1h-6ZM772 218.1h6V246h-6ZM775 248h6V249.8h-6ZM787 240.2h6V259.9h-6ZM805 190.1h6V224h-6ZM811 246.1h6V257.5h-6ZM817 285.8h6V287.5h-6ZM823 266h6V303.9h-6ZM833 296h6V309.8h-6ZM839 303.9h6V319.7h-6ZM845 309.8h6V327.6h-6ZM851 326h6V343.8h-6ZM869 301.9h6V313.8h-6ZM885 305.9h6V317.7h-6ZM891 307.9h6V319.7h-6ZM897 316.1h6V331.5h-6ZM915 290.1h6V305.9h-6ZM921 300.1h6V305.5h-6ZM927 293.7h6V307.7h-6ZM933 314.1h6V323.8h-6ZM937 315.2h6V353.9h-6ZM943 344.3h6V381.9h-6ZM949 388h6V389.7h-6ZM955 378.3h6V415.9h-6ZM961 395.9h6V447.6h-6ZM967 460.1h6V470.2h-6ZM979 412.1h6V454h-6ZM985 462.2h6V473.8h-6ZM1013 434h6V463.7h-6ZM1019 462.2h6V499.9h-6ZM1043 403.9h6V423.9h-6ZM1059 344.3h6V351.8h-6ZM1065 359.7h6V387.7h-6ZM1071 393.6h6V421.7h-6ZM1089 307.8h6V329.9h-6ZM1095 331.9h6V366h-6ZM1105 326h6V364h-6ZM1111 354.2h6V383.8h-6ZM1135 301.9h6V307.8h-6ZM1147 248h6V253.9h-6ZM1153 248h6V271.9h-6ZM1157 269.9h6V273.9h-6ZM1169 248h6V264h-6ZM1175 252h6V294h-6ZM1181 305.8h6V315.7h-6ZM1199 282.2h6V299.9h-6ZM1211 288h6V313.7h-6ZM1215 311.9h6V317.8h-6ZM1233 276.2h6V302h-6ZM1245 293.9h6V306h-6ZM1251 293.9h6V323.7h-6ZM1257 317.8h6V332h-6ZM1273 301.8h6V343.9h-6ZM1279 349.8h6V375.8h-6ZM1285 386.3h6V407.6h-6ZM1297 356.1h6V396.1h-6ZM1303 397.7h6V431.7h-6ZM1321 383.9h6V407.6h-6ZM1325 423.8h6V439.6h-6ZM1337 417.9h6V421.8h-6ZM1343 421.8h6V443.5h-6ZM1349 438.2h6V475.7h-6ZM1361 480.1h6V516h-6ZM1377 478.2h6V509.8h-6ZM1383 516h6V517.7h-6ZM1395 472.1h6V491.6h-6ZM1413 428h6V447.8h-6ZM1429 424h6V435.9h-6ZM1435 435.9h6V453.9h-6ZM1459 441.9h6V459.9h-6ZM1471 441.9h6V450h-6ZM1477 450h6V469.9h-6ZM1487 457.9h6V469.9h-6ZM1517 354h6V381.8h-6ZM1535 316.1h6V349.6h-6ZM1551 278h6V296h-6ZM1557 287.9h6V301.9h-6ZM1575 290.1h6V305.8h-6ZM1581 310.2h6V318.1h-6ZM1587 314.1h6V326h-6ZM1593 322h6V341.8h-6ZM1597 331.9h6V345.7h-6ZM1603 329.9h6V359.9h-6ZM1627 331.9h6V345.7h-6ZM1649 294.2h6V325.4h-6ZM1655 324.2h6V340.2h-6ZM1661 332.2h6V348.1h-6ZM1673 338.2h6V362h-6ZM1679 366.3h6V370h-6ZM1685 362h6V376h-6ZM1691 358.1h6V406.3h-6ZM1697 391.8h6V412.3h-6ZM1703 416.2h6V420h-6ZM1707 414h6V440.1h-6ZM1731 404.1h6V416.2h-6ZM1737 408h6V422.2h-6ZM1765 326.2h6V356.1h-6ZM1777 334.2h6V348.1h-6ZM1783 336.1h6V365.9h-6ZM1789 364.6h6V379.7h-6ZM1795 364.6h6V383.9h-6ZM1801 385.5h6V399.5h-6ZM1823 337.7h6V340.1h-6ZM1829 340.1h6V362.2h-6ZM1835 371.5h6V399.5h-6ZM1881 228.1h6V249.8h-6ZM1899 181.9h6V207.8h-6ZM1905 211.8h6V220h-6ZM1911 218.1h6V225.8h-6ZM1933 172.1h6V209.8h-6ZM1939 204.3h6V220h-6ZM1957 235.8h6V245.7h-6ZM1963 231.9h6V256h-6ZM1969 254h6V296h-6ZM1979 278.3h6V285.8h-6ZM1991 318.1h6V325.6h-6ZM1997 328.2h6V330h-6ZM2009 328.2h6V330h-6ZM2015 324h6V335.9h-6ZM2027 271.9h6V289.7h-6ZM2049 237.8h6V249.6h-6ZM2055 256h6V286.1h-6ZM2067 271.9h6V279.8h-6ZM2079 267.8h6V277.9h-6ZM2085 280h6V294.1h-6ZM2089 298.1h6V301.8h-6ZM2095 298.1h6V313.9h-6ZM2101 301.8h6V328h-6ZM2107 326.1h6V342h-6ZM2113 324h6V350.1h-6ZM2119 338h6V364h-6ZM2131 329.9h6V347.8h-6ZM2137 346.1h6V361.9h-6ZM2141 361.9h6V368h-6ZM2147 355.9h6V378h-6ZM2153 382.1h6V384h-6ZM2177 355.9h6V372.1h-6ZM2189 364h6V388h-6ZM2195 394.2h6V396.1h-6Z" fill="#eb4d5c"/><line x1="0" y1="385.1" x2="2281" y2="385.1" stroke="rgba(83,185,135,0.22)" stroke-width="1.7"/><line x1="0" y1="385.1" x2="2281" y2="385.1" stroke="rgba(83,185,135,0.5)" stroke-width="1.7" stroke-dasharray="1.5 1.5"/><text x="1933.4" y="541.8" font-size="24" font-weight="bold" fill="#134f5c" text-anchor="middle" direction="rtl" font-family="'DejaVu Sans', sans-serif">انجمن خبرگان سرمایه گذاری ایران</text><text x="1769" y="573.5" font-size="28.5" font-weight="bold" fill="#134f5c" textLength="336" lengthAdjust="spacingAndGlyphs" font-family="'Liberation Sans', sans-serif">Amoozesh-boors.com</text></g>
<g id="rsi"><rect x="0" y="901.5" width="2281" height="135.5" fill="#f1e5f3"/><line x1="0" y1="901.3" x2="2281" y2="901.3" stroke="#a29ca5" stroke-width="1.6" stroke-dasharray="6.4 4.6" stroke-dashoffset="1.4"/><line x1="0" y1="1037.2" x2="2281" y2="1037.2" stroke="#a29ca5" stroke-width="1.6" stroke-dasharray="6.4 4.6" stroke-dashoffset="1.4"/><polyline points="-4,1051.1 0,1055.1 4,1059.1 14,1035.1 20,1035.1 26,1043.1 32,998.1 38,968 44,947 50,937 56,925.4 62,938.4 66,943 72,959 78,957 84,949 90,961 96,941 102,949 108,920.4 114,943 124,905 130.1,923 136.1,919 142.1,927 148.1,927 154.1,915 160.1,927 166.1,905 174.1,887 182.1,873 188.1,893 200.1,889 206.1,897 212.1,899 218.1,929 224.1,907 230.1,905 236.1,899 246.1,892.6 252.1,892.6 258.1,932 264.1,943 270.1,913 276.1,931 282.1,927 286.1,929 292.1,935 298.1,907 304.1,915 310.1,937 316.1,955 322.1,963 328.1,985 334.1,961 340.1,971 344.1,957 350.1,975 356.1,967 362.1,985 368.1,983 374.1,979 380.2,995.1 386.2,1009.1 392.2,1023.1 396.2,995.1 402.2,1001.1 408.2,1011.1 414.2,983 420.2,994.7 426.2,995.1 432.2,997.5 438.2,969 444.2,969 448.2,977 454.2,955 460.2,963 466.2,953 472.2,967 478.2,987.1 484,971 490,969 496,965 502,979 506,993.1 512,991.1 518,989.1 524,981 530,953 536,939 542,939 548,959 554,947 558,941 564,923 570,909 576,931 582,923 588,935 594,909 600,937 606.1,917 612.1,905 616.1,915 622.1,917 628.1,899 634.1,897 640.1,895 646.1,919 652.1,931 658.1,939 664.1,919 668.1,931 674.1,909 680.1,899 686.1,887 692.1,923 698.1,931 704.1,941.4 710.1,973 716.1,985 722.1,975 726.1,987.1 732.1,977 738.1,987.1 744.1,975 750.1,967 756.1,975 762.1,979 768.1,983 774.1,995.1 778.1,997.1 784.1,995.1 790.1,1001.1 796.1,973 802.1,963 808.1,977 814.1,995.1 820.1,1007.1 826.1,1013.1 832.1,1011.1 838.1,1016.1 844.1,1019.5 848.1,1021.1 854.1,1021.1 860.2,1003.1 866.2,1001.1 872.2,1007.1 878.2,1003.1 884.2,989.1 888.2,1005.1 894.2,1005.1 900.2,1013.1 906.2,985 912.2,979 918.2,987.1 924.2,989.1 930.2,989.1 936.2,1001.1 940.2,1019.1 946.2,1033.1 952.2,1035.1 959.2,1049.1 964,1057.1 970,1061.1 976,1035.1 982,1043.1 988,1049.1 994,1043.1 998,1034.7 1004,1034.7 1010,1019.1 1016,1029.1 1022,1043.1 1028,1019.1 1034,995.1 1040,975 1046,983 1050,955 1056,937 1062,943 1068,965 1074,971 1080,955 1086.1,933 1092.1,935 1098.1,961 1104.1,943 1108.1,961 1114.1,973 1120.1,949 1126.1,935 1132.1,933 1138.1,935 1144.1,911 1150.1,915 1156.1,929 1160.1,929 1166.1,919 1172.1,929 1178.1,951 1184.1,965 1190.1,959 1196.1,949 1202.1,957 1208.1,957 1214.1,969 1218.1,971 1224.1,963 1230.1,945 1236.1,961 1242.1,957 1248.1,965 1254.1,979 1260.1,985 1270.1,959 1276.1,991.1 1282.1,1007.1 1288.1,1013.1 1294.1,1001.1 1300.1,1013.1 1306.1,1027.1 1312.1,1021.1 1318.1,995.1 1324.1,1005.1 1328.1,1013.1 1334.1,1009.1 1340.2,1009.1 1346.2,1019.1 1352.2,1033.1 1358.2,1031.1 1364.2,1045.1 1370.2,1035.1 1376.2,1021.1 1380.2,1031.1 1386.2,1035.1 1392.2,1011.1 1398.2,1013.1 1404.2,991.1 1410.2,969 1416.2,979 1422.2,979 1428.2,965 1432.2,971 1438.2,983 1444,979 1450,978.6 1456,975 1462,987.1 1468,975 1474,979 1480,993.1 1486,981 1490,991.1 1496,971 1502,947 1508,929 1514,911 1520,933 1526,907 1532,903 1538,927 1542,919 1548,899 1554,903 1560,909 1566.1,907 1572.1,903 1578.1,921 1584.1,933 1590.1,941.4 1596.1,957 1600.1,959.4 1606.1,973 1612.1,957 1618.1,951 1624.1,949 1630.1,963 1636.1,955 1642.1,941 1648.1,923 1652.1,955 1658.1,967 1664.1,973 1670.1,969 1676.1,985 1682.1,991.1 1688.1,995.5 1694.1,1015.1 1700.1,1019.1 1706.1,1023.1 1710.1,1033.1 1716.1,1025.1 1722.1,1016.7 1728.1,991.1 1734.1,995.1 1740.1,1007.1 1746.1,981 1752.1,951 1758.1,949 1762.1,933 1768.1,953 1774.1,945 1780.1,947 1786.1,965 1792.1,977 1798.1,981 1804.1,993.1 1810.1,955 1814.1,949 1820.2,941 1826.2,945 1832.2,965 1838.2,993.1 1844.2,967 1850.2,965 1856.2,933 1862.2,915 1868.2,905 1872.2,901 1878.2,895 1884.2,909 1890.2,899 1896.2,879 1902.2,907 1908.2,919 1914,922.6 1920,919 1924,911 1930,897 1936,933 1942,939 1948,935 1954,935 1960,963 1966,969 1972,993.1 1978,983 1982,987.1 1988,985.4 1994,1007.1 2000,1009.1 2006,1003.1 2012,1007.1 2018,1011.1 2024,973 2030,973 2034,971 2040.1,949 2046.1,941 2052.1,947 2058.1,975 2064.1,963 2070.1,966.6 2076.1,963 2082.1,969 2088.1,983 2092.1,987.1 2098.1,997.1 2104.1,1007.1 2110.1,1015.1 2116.1,1019.1 2122.1,1027.1 2128.1,1005.1 2134.1,1009.1 2140.1,1017.1 2144.1,1019.1 2150.1,1027.1 2156.1,1031.1 2162.1,1031.1 2168.1,1017.1 2174.1,1003.1 2180.1,1011.1 2186.1,1003.1 2192.1,1021.1 2198.1,1025.1 2202.1,1010.7" fill="none" stroke="#a63fa9" stroke-opacity="0.92" stroke-width="1.1" stroke-linejoin="round"/><text x="14" y="1024.4" font-size="28" fill="none" stroke="#fff" stroke-opacity="0.55" stroke-width="8.4" stroke-linejoin="round" textLength="263" lengthAdjust="spacingAndGlyphs" font-family="'Liberation Sans', sans-serif">Chart by TradingView</text><text x="14" y="1024.4" font-size="28" fill="none" stroke="#fff" stroke-opacity="0.9" stroke-width="5.6" stroke-linejoin="round" textLength="263" lengthAdjust="spacingAndGlyphs" font-family="'Liberation Sans', sans-serif">Chart by TradingView</text><text x="14" y="1024.4" font-size="28" fill="#2e9fea" stroke="#2e9fea" stroke-width="0.35" textLength="263" lengthAdjust="spacingAndGlyphs" font-family="'Liberation Sans', sans-serif">Chart by TradingView</text></g>
<g id="axes"><rect x="2284" y="0" width="115" height="1115" fill="#fff"/><rect x="0" y="1074.5" width="2399" height="40.5" fill="#fff"/><rect x="2284" y="56.2" width="7" height="1.6" fill="#484848"/><text transform="matrix(1 0 0 1.055 0 -3.68)" x="2297.2" y="66.9" font-size="21.9" fill="#555555">10500.00</text><rect x="2284" y="119.1" width="7" height="1.6" fill="#484848"/><text transform="matrix(1 0 0 1.055 0 -7.14)" x="2297.2" y="129.8" font-size="21.9" fill="#555555">9500.00</text><rect x="2284" y="204" width="7" height="1.6" fill="#484848"/><text transform="matrix(1 0 0 1.055 0 -11.81)" x="2297.2" y="214.7" font-size="21.9" fill="#555555">8300.00</text><rect x="2284" y="334" width="7" height="1.6" fill="#484848"/><text transform="matrix(1 0 0 1.055 0 -18.96)" x="2297.2" y="344.7" font-size="21.9" fill="#555555">6750.00</text><rect x="2284" y="408.1" width="7" height="1.6" fill="#484848"/><text transform="matrix(1 0 0 1.055 0 -23.03)" x="2297.2" y="418.8" font-size="21.9" fill="#555555">6000.00</text><rect x="2284" y="474.3" width="7" height="1.6" fill="#484848"/><text transform="matrix(1 0 0 1.055 0 -26.68)" x="2297.2" y="485" font-size="21.9" fill="#555555">5400.00</text><rect x="2284" y="548.4" width="7" height="1.6" fill="#484848"/><text transform="matrix(1 0 0 1.055 0 -30.75)" x="2297.2" y="559.1" font-size="21.9" fill="#555555">4800.00</text><rect x="2284" y="632.4" width="7" height="1.6" fill="#484848"/><text transform="matrix(1 0 0 1.055 0 -35.37)" x="2297.2" y="643.1" font-size="21.9" fill="#555555">4200.00</text><rect x="2284" y="695.3" width="7" height="1.6" fill="#484848"/><text transform="matrix(1 0 0 1.055 0 -38.83)" x="2297.2" y="706" font-size="21.9" fill="#555555">3800.00</text><rect x="2284" y="756.1" width="7" height="1.6" fill="#484848"/><text transform="matrix(1 0 0 1.055 0 -42.17)" x="2297.2" y="766.8" font-size="21.9" fill="#555555">3450.00</text><rect x="2284" y="817.3" width="7" height="1.6" fill="#484848"/><text transform="matrix(1 0 0 1.055 0 -45.54)" x="2297.2" y="828" font-size="21.9" fill="#555555">3130.00</text><clipPath id="rc"><rect x="2284" y="860.5" width="115" height="211.29999999999995"/></clipPath><g clip-path="url(#rc)"><rect x="2284" y="865.7" width="7" height="1.6" fill="#484848"/><text transform="matrix(1 0 0 1.055 0 -48.18)" x="2297.2" y="876" font-size="21.9" fill="#555555">80.0000</text><rect x="2284" y="933.8" width="7" height="1.6" fill="#484848"/><text transform="matrix(1 0 0 1.055 0 -51.93)" x="2297.2" y="944.1" font-size="21.9" fill="#555555">60.0000</text><rect x="2284" y="1001.9" width="7" height="1.6" fill="#484848"/><text transform="matrix(1 0 0 1.055 0 -55.67)" x="2297.2" y="1012.2" font-size="21.9" fill="#555555">40.0000</text><rect x="2284" y="1070" width="7" height="1.6" fill="#484848"/><text transform="matrix(1 0 0 1.055 0 -59.42)" x="2297.2" y="1080.3" font-size="21.9" fill="#555555">20.0000</text></g><rect x="2282.9" y="0" width="2.1" height="1075.5" fill="#484848"/><rect x="0" y="860.05" width="2394.5" height="1.7" fill="#484848"/><rect x="0" y="1074" width="2285" height="2" fill="#484848"/><rect x="2283" y="254" width="100" height="31.6" fill="#0b2f3a"/><rect x="2283.5" y="268" width="5.5" height="1.6" fill="#9fb2b7"/><text transform="matrix(1 0 0 1.055 0 -15.29)" x="2297.2" y="278" font-size="21.9" fill="#fff">7500.00</text><rect x="2283" y="370" width="100" height="31.6" fill="#53b987"/><rect x="2283.5" y="384" width="5.5" height="1.6" fill="#b5e0cb"/><text transform="matrix(1 0 0 1.055 0 -21.67)" x="2297.2" y="394" font-size="21.9" fill="#fff">6240.00</text><rect x="2283" y="438.1" width="100" height="31.6" fill="#0b2f3a"/><rect x="2283.5" y="452" width="5.5" height="1.6" fill="#9fb2b7"/><text transform="matrix(1 0 0 1.055 0 -25.42)" x="2297.2" y="462.1" font-size="21.9" fill="#fff">5600.00</text><rect x="45" y="1075" width="2" height="7" fill="#484848"/><text transform="matrix(1 0 0 1.055 0 -60.71)" x="45.2" y="1103.9" font-size="22" fill="#555555" text-anchor="middle">7</text><rect x="264.7" y="1075" width="2" height="7" fill="#484848"/><text transform="matrix(1 0 0 1.055 0 -60.71)" x="264.9" y="1103.9" font-size="22" fill="#555555" text-anchor="middle" font-weight="bold">2023</text><rect x="478.4" y="1075" width="2" height="7" fill="#484848"/><text x="479.4" y="1101" font-size="20" fill="#555555" text-anchor="middle" direction="rtl" font-family="'DejaVu Sans', sans-serif">اسفند</text><rect x="669.1" y="1075" width="2" height="7" fill="#484848"/><text x="670.1" y="1101" font-size="20" fill="#555555" text-anchor="middle" direction="rtl" font-family="'DejaVu Sans', sans-serif">اردیبهشت</text><rect x="900.8" y="1075" width="2" height="7" fill="#484848"/><text x="901.8" y="1101" font-size="20" fill="#555555" text-anchor="middle" direction="rtl" font-family="'DejaVu Sans', sans-serif">تیر</text><rect x="1156.8" y="1075" width="2" height="7" fill="#484848"/><text x="1157.8" y="1101" font-size="20" fill="#555555" text-anchor="middle" direction="rtl" font-family="'DejaVu Sans', sans-serif">شهریور</text><rect x="1386.6" y="1075" width="2" height="7" fill="#484848"/><text x="1387.6" y="1101" font-size="20" fill="#555555" text-anchor="middle" direction="rtl" font-family="'DejaVu Sans', sans-serif">آبان</text><rect x="1630.5" y="1075" width="2" height="7" fill="#484848"/><text transform="matrix(1 0 0 1.055 0 -60.71)" x="1630.7" y="1103.9" font-size="22" fill="#555555" text-anchor="middle" font-weight="bold">2024</text><rect x="1856.8" y="1075" width="2" height="7" fill="#484848"/><text x="1857.8" y="1101" font-size="20" fill="#555555" text-anchor="middle" direction="rtl" font-family="'DejaVu Sans', sans-serif">اسفند</text><rect x="2077.8" y="1075" width="2" height="7" fill="#484848"/><text x="2078.8" y="1101" font-size="20" fill="#555555" text-anchor="middle" direction="rtl" font-family="'DejaVu Sans', sans-serif">اردیبهشت</text><rect x="2227" y="1075" width="2" height="7" fill="#484848"/><text transform="matrix(1 0 0 1.055 0 -60.71)" x="2227.2" y="1103.9" font-size="22" fill="#555555" text-anchor="middle">16</text><rect x="0" y="1111.5" width="2399" height="3.5" fill="#e1e3e6"/><rect x="2395.5" y="0" width="3.5" height="1115" fill="#dce8f3"/></g>
</svg>
</body></html>
